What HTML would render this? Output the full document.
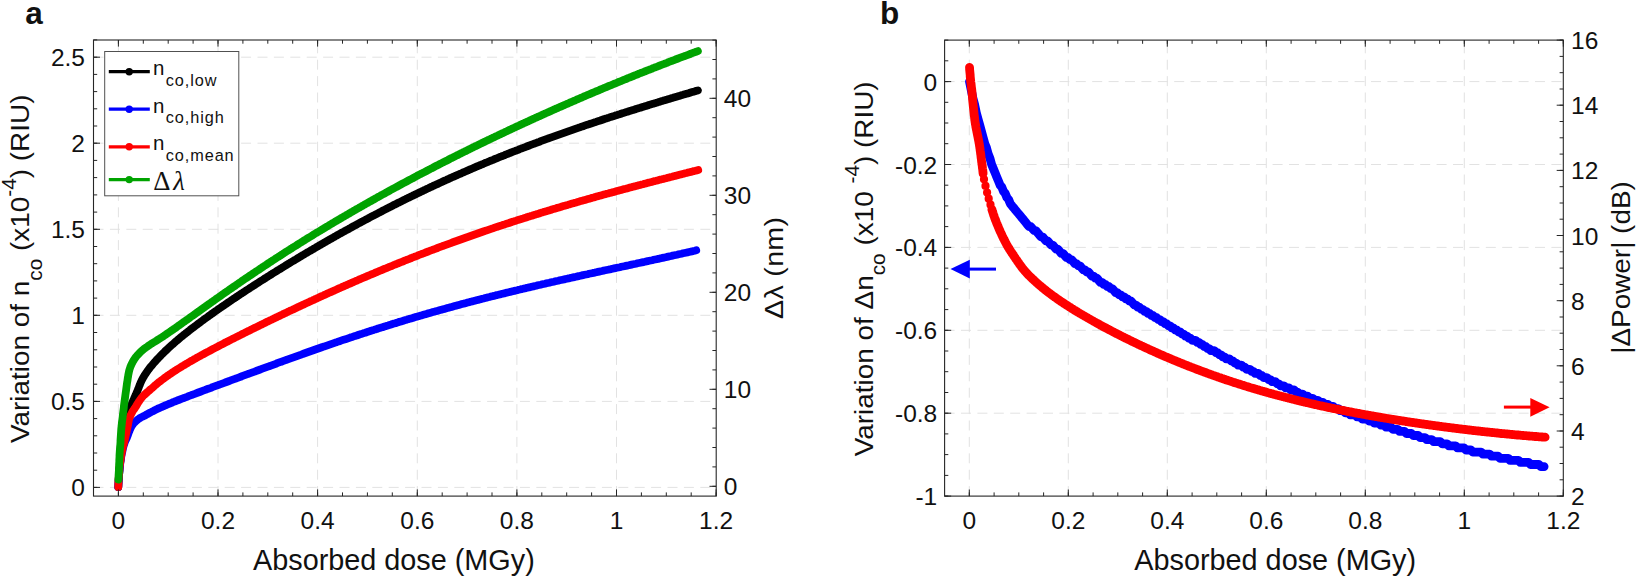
<!DOCTYPE html>
<html lang="en"><head><meta charset="utf-8"><title>Figure</title>
<style>
html,body{margin:0;padding:0;background:#fff;}
body{width:1637px;height:577px;overflow:hidden;}
svg{display:block;}
svg text{font-family:"Liberation Sans", sans-serif;fill:#111111;}
</style></head><body>
<svg width="1637" height="577" viewBox="0 0 1637 577">
<rect width="1637" height="577" fill="#fff"/>
<rect x="93.5" y="40.0" width="622.7" height="456.1" fill="#fff"/>
<line x1="118.4" y1="496.1" x2="118.4" y2="40.0" stroke="#e2e2e2" stroke-width="1.00" stroke-dasharray="10 6.4"/>
<line x1="218.0" y1="496.1" x2="218.0" y2="40.0" stroke="#e2e2e2" stroke-width="1.00" stroke-dasharray="10 6.4"/>
<line x1="317.6" y1="496.1" x2="317.6" y2="40.0" stroke="#e2e2e2" stroke-width="1.00" stroke-dasharray="10 6.4"/>
<line x1="417.3" y1="496.1" x2="417.3" y2="40.0" stroke="#e2e2e2" stroke-width="1.00" stroke-dasharray="10 6.4"/>
<line x1="516.9" y1="496.1" x2="516.9" y2="40.0" stroke="#e2e2e2" stroke-width="1.00" stroke-dasharray="10 6.4"/>
<line x1="616.5" y1="496.1" x2="616.5" y2="40.0" stroke="#e2e2e2" stroke-width="1.00" stroke-dasharray="10 6.4"/>
<line x1="93.5" y1="487.4" x2="716.1" y2="487.4" stroke="#e2e2e2" stroke-width="1.00" stroke-dasharray="10 6.4"/>
<line x1="93.5" y1="401.4" x2="716.1" y2="401.4" stroke="#e2e2e2" stroke-width="1.00" stroke-dasharray="10 6.4"/>
<line x1="93.5" y1="315.3" x2="716.1" y2="315.3" stroke="#e2e2e2" stroke-width="1.00" stroke-dasharray="10 6.4"/>
<line x1="93.5" y1="229.3" x2="716.1" y2="229.3" stroke="#e2e2e2" stroke-width="1.00" stroke-dasharray="10 6.4"/>
<line x1="93.5" y1="143.2" x2="716.1" y2="143.2" stroke="#e2e2e2" stroke-width="1.00" stroke-dasharray="10 6.4"/>
<line x1="93.5" y1="57.2" x2="716.1" y2="57.2" stroke="#e2e2e2" stroke-width="1.00" stroke-dasharray="10 6.4"/>
<path d="M118.3 487.0 L118.4 485.5 L118.5 484.0 L118.6 482.5 L118.7 481.0 L118.8 479.5 L118.9 478.0 L119.0 476.5 L119.1 475.0 L119.2 473.5 L119.4 472.0 L119.5 470.5 L119.6 469.0 L119.7 467.5 L119.9 466.0 L120.0 464.5 L120.2 463.0 L120.3 461.5 L120.5 460.0 L120.6 458.5 L120.8 457.1 L121.0 455.6 L121.1 454.1 L121.3 452.6 L121.5 451.1 L121.6 449.6 L121.8 448.1 L122.0 446.6 L122.2 445.1 L122.4 443.6 L122.6 442.1 L122.8 440.6 L123.0 439.2 L123.2 437.7 L123.4 436.2 L123.6 434.7 L123.9 433.2 L124.1 431.7 L124.3 430.2 L124.6 428.8 L124.8 427.3 L125.1 425.8 L125.3 424.3 L125.6 422.8 L125.9 421.4 L126.2 419.9 L126.6 418.4 L126.9 417.0 L127.3 415.5 L127.7 414.1 L128.1 412.6 L128.6 411.2 L129.2 409.8 L129.8 408.4 L130.4 407.1 L131.0 405.7 L131.6 404.3 L132.2 402.9 L132.8 401.5 L133.4 400.2 L134.0 398.8 L134.6 397.4 L135.2 396.0 L135.8 394.7 L136.4 393.3 L137.0 391.9 L137.6 390.5 L138.1 389.1 L138.7 387.7 L139.2 386.3 L139.8 384.9 L140.3 383.5 L140.9 382.1 L141.5 380.8 L142.2 379.4 L142.9 378.1 L143.7 376.8 L144.4 375.5 L145.2 374.3 L146.1 373.0 L146.9 371.8 L147.8 370.5 L148.7 369.3 L149.6 368.1 L150.5 366.9 L151.5 365.8 L152.5 364.7 L153.4 363.5 L154.4 362.4 L155.4 361.3 L156.4 360.2 L157.5 359.0 L158.5 358.0 L159.5 356.9 L160.6 355.8 L161.6 354.7 L162.7 353.7 L163.8 352.6 L164.8 351.5 L165.9 350.5 L167.0 349.5 L168.1 348.4 L169.2 347.4 L170.3 346.4 L171.4 345.4 L172.5 344.4 L173.7 343.4 L174.8 342.4 L175.9 341.4 L177.1 340.5 L178.2 339.5 L179.4 338.5 L180.5 337.6 L181.7 336.6 L182.9 335.7 L184.0 334.7 L185.2 333.8 L186.4 332.8 L187.6 331.9 L188.7 331.0 L189.9 330.1 L191.1 329.1 L192.3 328.2 L193.5 327.3 L194.7 326.4 L195.9 325.5 L197.1 324.6 L198.3 323.7 L199.5 322.8 L200.7 321.9 L201.9 321.0 L203.1 320.1 L204.3 319.2 L205.5 318.3 L206.8 317.5 L208.0 316.6 L209.2 315.7 L210.4 314.8 L211.6 313.9 L212.9 313.1 L214.1 312.2 L215.3 311.3 L216.6 310.5 L217.8 309.6 L219.0 308.8 L220.3 307.9 L221.5 307.1 L222.7 306.2 L224.0 305.4 L225.2 304.5 L226.4 303.7 L227.7 302.8 L228.9 302.0 L230.2 301.1 L231.4 300.3 L232.7 299.4 L233.9 298.6 L235.2 297.8 L236.4 296.9 L237.7 296.1 L238.9 295.3 L240.2 294.4 L241.4 293.6 L242.7 292.8 L243.9 292.0 L245.2 291.1 L246.4 290.3 L247.7 289.5 L249.0 288.7 L250.2 287.8 L251.5 287.0 L252.7 286.2 L254.0 285.4 L255.3 284.6 L256.5 283.8 L257.8 283.0 L259.1 282.1 L260.3 281.3 L261.6 280.5 L262.9 279.7 L264.1 278.9 L265.4 278.1 L266.7 277.3 L267.9 276.5 L269.2 275.7 L270.5 274.9 L271.8 274.1 L273.0 273.3 L274.3 272.5 L275.6 271.7 L276.9 270.9 L278.1 270.1 L279.4 269.4 L280.7 268.6 L282.0 267.8 L283.2 267.0 L284.5 266.2 L285.8 265.4 L287.1 264.6 L288.4 263.8 L289.7 263.1 L290.9 262.3 L292.2 261.5 L293.5 260.7 L294.8 260.0 L296.1 259.2 L297.4 258.4 L298.7 257.6 L299.9 256.9 L301.2 256.1 L302.5 255.3 L303.8 254.6 L305.1 253.8 L306.4 253.0 L307.7 252.3 L309.0 251.5 L310.3 250.7 L311.6 250.0 L312.9 249.2 L314.2 248.5 L315.5 247.7 L316.8 246.9 L318.1 246.2 L319.4 245.4 L320.7 244.7 L322.0 243.9 L323.3 243.2 L324.6 242.4 L325.9 241.7 L327.2 240.9 L328.5 240.2 L329.8 239.4 L331.1 238.7 L332.4 238.0 L333.7 237.2 L335.0 236.5 L336.3 235.7 L337.6 235.0 L339.0 234.3 L340.3 233.5 L341.6 232.8 L342.9 232.1 L344.2 231.4 L345.5 230.6 L346.8 229.9 L348.2 229.2 L349.5 228.5 L350.8 227.7 L352.1 227.0 L353.4 226.3 L354.7 225.6 L356.1 224.9 L357.4 224.1 L358.7 223.4 L360.0 222.7 L361.3 222.0 L362.7 221.3 L364.0 220.6 L365.3 219.9 L366.6 219.2 L368.0 218.5 L369.3 217.8 L370.6 217.0 L372.0 216.3 L373.3 215.6 L374.6 215.0 L376.0 214.3 L377.3 213.6 L378.6 212.9 L379.9 212.2 L381.3 211.5 L382.6 210.8 L384.0 210.1 L385.3 209.4 L386.6 208.7 L388.0 208.0 L389.3 207.4 L390.6 206.7 L392.0 206.0 L393.3 205.3 L394.7 204.6 L396.0 204.0 L397.3 203.3 L398.7 202.6 L400.0 202.0 L401.4 201.3 L402.7 200.6 L404.1 199.9 L405.4 199.3 L406.8 198.6 L408.1 197.9 L409.5 197.3 L410.8 196.6 L412.2 196.0 L413.5 195.3 L414.9 194.7 L416.2 194.0 L417.6 193.4 L418.9 192.7 L420.3 192.1 L421.6 191.4 L423.0 190.8 L424.4 190.1 L425.7 189.5 L427.1 188.8 L428.4 188.2 L429.8 187.5 L431.1 186.9 L432.5 186.3 L433.9 185.6 L435.2 185.0 L436.6 184.4 L438.0 183.8 L439.3 183.1 L440.7 182.5 L442.1 181.9 L443.4 181.2 L444.8 180.6 L446.2 180.0 L447.5 179.4 L448.9 178.8 L450.3 178.1 L451.6 177.5 L453.0 176.9 L454.4 176.3 L455.8 175.7 L457.1 175.1 L458.5 174.5 L459.9 173.9 L461.3 173.3 L462.6 172.7 L464.0 172.1 L465.4 171.5 L466.8 170.9 L468.1 170.3 L469.5 169.7 L470.9 169.1 L472.3 168.5 L473.7 167.9 L475.0 167.3 L476.4 166.7 L477.8 166.1 L479.2 165.5 L480.6 165.0 L482.0 164.4 L483.4 163.8 L484.7 163.2 L486.1 162.6 L487.5 162.1 L488.9 161.5 L490.3 160.9 L491.7 160.3 L493.1 159.8 L494.5 159.2 L495.9 158.6 L497.2 158.1 L498.6 157.5 L500.0 156.9 L501.4 156.4 L502.8 155.8 L504.2 155.3 L505.6 154.7 L507.0 154.2 L508.4 153.6 L509.8 153.0 L511.2 152.5 L512.6 151.9 L514.0 151.4 L515.4 150.9 L516.8 150.3 L518.2 149.8 L519.6 149.2 L521.0 148.7 L522.4 148.1 L523.8 147.6 L525.2 147.1 L526.6 146.5 L528.0 146.0 L529.4 145.5 L530.8 144.9 L532.2 144.4 L533.6 143.9 L535.0 143.3 L536.4 142.8 L537.9 142.3 L539.3 141.8 L540.7 141.2 L542.1 140.7 L543.5 140.2 L544.9 139.7 L546.3 139.2 L547.7 138.7 L549.1 138.1 L550.5 137.6 L552.0 137.1 L553.4 136.6 L554.8 136.1 L556.2 135.6 L557.6 135.1 L559.0 134.6 L560.4 134.1 L561.9 133.6 L563.3 133.1 L564.7 132.6 L566.1 132.1 L567.5 131.6 L568.9 131.1 L570.4 130.6 L571.8 130.1 L573.2 129.6 L574.6 129.1 L576.0 128.6 L577.5 128.1 L578.9 127.6 L580.3 127.2 L581.7 126.7 L583.2 126.2 L584.6 125.7 L586.0 125.2 L587.4 124.7 L588.8 124.3 L590.3 123.8 L591.7 123.3 L593.1 122.8 L594.5 122.3 L596.0 121.9 L597.4 121.4 L598.8 120.9 L600.3 120.5 L601.7 120.0 L603.1 119.5 L604.5 119.0 L606.0 118.6 L607.4 118.1 L608.8 117.7 L610.2 117.2 L611.7 116.7 L613.1 116.3 L614.5 115.8 L616.0 115.3 L617.4 114.9 L618.8 114.4 L620.3 114.0 L621.7 113.5 L623.1 113.1 L624.6 112.6 L626.0 112.1 L627.4 111.7 L628.9 111.2 L630.3 110.8 L631.7 110.3 L633.2 109.9 L634.6 109.5 L636.0 109.0 L637.5 108.6 L638.9 108.1 L640.3 107.7 L641.8 107.2 L643.2 106.8 L644.6 106.3 L646.1 105.9 L647.5 105.5 L648.9 105.0 L650.4 104.6 L651.8 104.1 L653.3 103.7 L654.7 103.3 L656.1 102.8 L657.6 102.4 L659.0 101.9 L660.4 101.5 L661.9 101.1 L663.3 100.6 L664.8 100.2 L666.2 99.8 L667.6 99.3 L669.1 98.9 L670.5 98.5 L672.0 98.1 L673.4 97.6 L674.8 97.2 L676.3 96.8 L677.7 96.3 L679.2 95.9 L680.6 95.5 L682.0 95.1 L683.5 94.6 L684.9 94.2 L686.4 93.8 L687.8 93.4 L689.2 93.0 L690.7 92.5 L692.1 92.1 L693.6 91.7 L695.0 91.3 L696.5 90.8 L697.9 90.4" fill="none" stroke="#000000" stroke-width="7.8" stroke-linecap="round" stroke-linejoin="round"/>
<path d="M118.3 487.0 L118.4 485.5 L118.4 484.0 L118.5 482.5 L118.6 481.0 L118.7 479.5 L118.8 478.0 L118.9 476.5 L119.0 475.0 L119.2 473.5 L119.3 472.0 L119.5 470.5 L119.6 469.0 L119.8 467.5 L119.9 466.0 L120.1 464.5 L120.3 463.0 L120.5 461.5 L120.8 460.1 L121.0 458.6 L121.2 457.1 L121.5 455.6 L121.8 454.1 L122.1 452.7 L122.4 451.2 L122.7 449.7 L123.0 448.2 L123.4 446.8 L123.8 445.3 L124.3 443.9 L124.7 442.5 L125.3 441.1 L126.0 439.7 L126.6 438.4 L127.2 437.0 L127.7 435.6 L128.2 434.2 L128.7 432.7 L129.3 431.4 L129.8 430.0 L130.4 428.6 L131.1 427.2 L131.8 425.9 L132.7 424.7 L133.6 423.5 L134.6 422.4 L135.7 421.3 L136.8 420.3 L138.0 419.4 L139.2 418.5 L140.5 417.8 L141.8 417.0 L143.2 416.4 L144.5 415.7 L145.8 415.0 L147.2 414.2 L148.5 413.5 L149.8 412.8 L151.1 412.1 L152.4 411.4 L153.8 410.7 L155.1 410.0 L156.5 409.4 L157.8 408.7 L159.2 408.1 L160.6 407.5 L162.0 406.9 L163.3 406.3 L164.7 405.7 L166.1 405.1 L167.5 404.5 L168.9 403.9 L170.3 403.3 L171.6 402.8 L173.0 402.2 L174.4 401.7 L175.8 401.1 L177.2 400.5 L178.6 400.0 L180.0 399.5 L181.4 398.9 L182.8 398.4 L184.2 397.8 L185.6 397.3 L187.0 396.8 L188.5 396.2 L189.9 395.7 L191.3 395.2 L192.7 394.6 L194.1 394.1 L195.5 393.6 L196.9 393.0 L198.3 392.5 L199.7 392.0 L201.1 391.5 L202.5 390.9 L203.9 390.4 L205.3 389.9 L206.7 389.3 L208.2 388.8 L209.6 388.3 L211.0 387.8 L212.4 387.2 L213.8 386.7 L215.2 386.2 L216.6 385.7 L218.0 385.2 L219.4 384.6 L220.8 384.1 L222.2 383.6 L223.6 383.1 L225.1 382.5 L226.5 382.0 L227.9 381.5 L229.3 381.0 L230.7 380.4 L232.1 379.9 L233.5 379.4 L234.9 378.9 L236.3 378.3 L237.7 377.8 L239.1 377.3 L240.6 376.8 L242.0 376.2 L243.4 375.7 L244.8 375.2 L246.2 374.7 L247.6 374.2 L249.0 373.6 L250.4 373.1 L251.8 372.6 L253.2 372.1 L254.7 371.6 L256.1 371.0 L257.5 370.5 L258.9 370.0 L260.3 369.5 L261.7 368.9 L263.1 368.4 L264.5 367.9 L265.9 367.4 L267.3 366.9 L268.8 366.4 L270.2 365.8 L271.6 365.3 L273.0 364.8 L274.4 364.3 L275.8 363.8 L277.2 363.2 L278.6 362.7 L280.0 362.2 L281.5 361.7 L282.9 361.2 L284.3 360.7 L285.7 360.2 L287.1 359.6 L288.5 359.1 L289.9 358.6 L291.3 358.1 L292.8 357.6 L294.2 357.1 L295.6 356.6 L297.0 356.1 L298.4 355.6 L299.8 355.1 L301.2 354.6 L302.7 354.0 L304.1 353.5 L305.5 353.0 L306.9 352.5 L308.3 352.0 L309.7 351.5 L311.2 351.0 L312.6 350.5 L314.0 350.0 L315.4 349.5 L316.8 349.0 L318.3 348.5 L319.7 348.0 L321.1 347.5 L322.5 347.0 L323.9 346.6 L325.3 346.1 L326.8 345.6 L328.2 345.1 L329.6 344.6 L331.0 344.1 L332.5 343.6 L333.9 343.1 L335.3 342.6 L336.7 342.2 L338.1 341.7 L339.6 341.2 L341.0 340.7 L342.4 340.2 L343.8 339.7 L345.3 339.3 L346.7 338.8 L348.1 338.3 L349.5 337.8 L351.0 337.3 L352.4 336.9 L353.8 336.4 L355.2 335.9 L356.7 335.5 L358.1 335.0 L359.5 334.5 L361.0 334.1 L362.4 333.6 L363.8 333.1 L365.2 332.7 L366.7 332.2 L368.1 331.7 L369.5 331.3 L371.0 330.8 L372.4 330.3 L373.8 329.9 L375.3 329.4 L376.7 329.0 L378.1 328.5 L379.6 328.1 L381.0 327.6 L382.4 327.2 L383.9 326.7 L385.3 326.3 L386.7 325.8 L388.2 325.4 L389.6 324.9 L391.0 324.5 L392.5 324.0 L393.9 323.6 L395.3 323.2 L396.8 322.7 L398.2 322.3 L399.7 321.8 L401.1 321.4 L402.5 321.0 L404.0 320.5 L405.4 320.1 L406.9 319.7 L408.3 319.2 L409.7 318.8 L411.2 318.4 L412.6 318.0 L414.1 317.5 L415.5 317.1 L416.9 316.7 L418.4 316.3 L419.8 315.8 L421.3 315.4 L422.7 315.0 L424.2 314.6 L425.6 314.2 L427.0 313.8 L428.5 313.3 L429.9 312.9 L431.4 312.5 L432.8 312.1 L434.3 311.7 L435.7 311.3 L437.2 310.9 L438.6 310.5 L440.1 310.1 L441.5 309.7 L443.0 309.3 L444.4 308.9 L445.9 308.5 L447.3 308.1 L448.8 307.7 L450.2 307.3 L451.7 306.9 L453.1 306.5 L454.6 306.1 L456.0 305.7 L457.5 305.3 L458.9 304.9 L460.4 304.5 L461.8 304.1 L463.3 303.7 L464.7 303.4 L466.2 303.0 L467.6 302.6 L469.1 302.2 L470.5 301.8 L472.0 301.4 L473.4 301.1 L474.9 300.7 L476.4 300.3 L477.8 299.9 L479.3 299.6 L480.7 299.2 L482.2 298.8 L483.6 298.5 L485.1 298.1 L486.5 297.7 L488.0 297.3 L489.5 297.0 L490.9 296.6 L492.4 296.2 L493.8 295.9 L495.3 295.5 L496.8 295.1 L498.2 294.8 L499.7 294.4 L501.1 294.1 L502.6 293.7 L504.1 293.4 L505.5 293.0 L507.0 292.6 L508.4 292.3 L509.9 291.9 L511.4 291.6 L512.8 291.2 L514.3 290.9 L515.7 290.5 L517.2 290.2 L518.7 289.8 L520.1 289.5 L521.6 289.1 L523.0 288.8 L524.5 288.4 L526.0 288.1 L527.4 287.7 L528.9 287.4 L530.4 287.1 L531.8 286.7 L533.3 286.4 L534.8 286.0 L536.2 285.7 L537.7 285.3 L539.1 285.0 L540.6 284.7 L542.1 284.3 L543.5 284.0 L545.0 283.7 L546.5 283.3 L547.9 283.0 L549.4 282.7 L550.9 282.3 L552.3 282.0 L553.8 281.7 L555.3 281.3 L556.7 281.0 L558.2 280.7 L559.7 280.3 L561.1 280.0 L562.6 279.7 L564.1 279.4 L565.5 279.0 L567.0 278.7 L568.5 278.4 L569.9 278.1 L571.4 277.7 L572.9 277.4 L574.3 277.1 L575.8 276.8 L577.3 276.4 L578.7 276.1 L580.2 275.8 L581.7 275.4 L583.1 275.1 L584.6 274.8 L586.1 274.5 L587.6 274.2 L589.0 273.8 L590.5 273.5 L592.0 273.2 L593.4 272.9 L594.9 272.6 L596.4 272.2 L597.8 271.9 L599.3 271.6 L600.8 271.3 L602.2 271.0 L603.7 270.6 L605.2 270.3 L606.6 270.0 L608.1 269.7 L609.6 269.4 L611.1 269.1 L612.5 268.7 L614.0 268.4 L615.5 268.1 L616.9 267.8 L618.4 267.5 L619.9 267.2 L621.3 266.8 L622.8 266.5 L624.3 266.2 L625.7 265.9 L627.2 265.6 L628.7 265.3 L630.2 264.9 L631.6 264.6 L633.1 264.3 L634.6 264.0 L636.0 263.7 L637.5 263.3 L639.0 263.0 L640.4 262.7 L641.9 262.4 L643.4 262.1 L644.8 261.8 L646.3 261.4 L647.8 261.1 L649.2 260.8 L650.7 260.5 L652.2 260.2 L653.7 259.8 L655.1 259.5 L656.6 259.2 L658.1 258.9 L659.5 258.6 L661.0 258.2 L662.5 257.9 L663.9 257.6 L665.4 257.3 L666.9 256.9 L668.3 256.6 L669.8 256.3 L671.3 256.0 L672.7 255.6 L674.2 255.3 L675.7 255.0 L677.1 254.7 L678.6 254.3 L680.1 254.0 L681.5 253.7 L683.0 253.3 L684.5 253.0 L685.9 252.7 L687.4 252.4 L688.9 252.0 L690.3 251.7 L691.8 251.4 L693.3 251.0 L694.7 250.7 L696.2 250.3" fill="none" stroke="#0000ff" stroke-width="7.8" stroke-linecap="round" stroke-linejoin="round"/>
<path d="M118.3 487.0 L118.3 485.5 L118.4 484.0 L118.4 482.5 L118.5 481.0 L118.6 479.5 L118.7 478.0 L118.8 476.5 L118.9 475.0 L119.0 473.5 L119.1 472.0 L119.3 470.5 L119.4 469.0 L119.5 467.5 L119.7 466.1 L119.9 464.6 L120.1 463.1 L120.4 461.6 L120.6 460.1 L120.8 458.6 L121.0 457.1 L121.2 455.6 L121.5 454.2 L121.7 452.7 L122.0 451.2 L122.3 449.7 L122.6 448.3 L122.9 446.8 L123.3 445.4 L123.7 443.9 L124.1 442.5 L124.5 441.0 L124.8 439.6 L125.2 438.1 L125.5 436.6 L125.8 435.2 L126.1 433.7 L126.5 432.2 L126.8 430.8 L127.1 429.3 L127.4 427.8 L127.7 426.4 L128.0 424.9 L128.2 423.4 L128.5 421.9 L128.8 420.4 L129.1 419.0 L129.6 417.6 L130.2 416.2 L130.8 414.8 L131.5 413.5 L132.2 412.2 L132.9 410.9 L133.8 409.6 L134.7 408.4 L135.5 407.2 L136.3 405.9 L137.0 404.6 L137.8 403.3 L138.6 402.0 L139.4 400.8 L140.3 399.5 L141.2 398.3 L142.1 397.2 L143.1 396.1 L144.2 395.0 L145.3 394.0 L146.4 393.0 L147.5 392.0 L148.7 391.0 L149.8 390.0 L150.9 389.0 L152.1 388.1 L153.2 387.1 L154.3 386.1 L155.5 385.1 L156.6 384.1 L157.8 383.2 L158.9 382.2 L160.1 381.3 L161.3 380.4 L162.5 379.5 L163.7 378.6 L164.9 377.7 L166.1 376.8 L167.3 375.9 L168.6 375.1 L169.8 374.2 L171.0 373.4 L172.3 372.5 L173.5 371.7 L174.8 370.9 L176.1 370.1 L177.3 369.3 L178.6 368.5 L179.9 367.7 L181.2 366.9 L182.4 366.1 L183.7 365.4 L185.0 364.6 L186.3 363.8 L187.6 363.1 L188.9 362.3 L190.2 361.5 L191.5 360.8 L192.8 360.1 L194.1 359.3 L195.4 358.6 L196.7 357.8 L198.0 357.1 L199.3 356.4 L200.6 355.7 L202.0 354.9 L203.3 354.2 L204.6 353.5 L205.9 352.8 L207.2 352.1 L208.6 351.4 L209.9 350.7 L211.2 350.0 L212.5 349.3 L213.9 348.6 L215.2 347.9 L216.5 347.2 L217.9 346.5 L219.2 345.8 L220.5 345.1 L221.8 344.4 L223.2 343.7 L224.5 343.0 L225.8 342.3 L227.2 341.7 L228.5 341.0 L229.9 340.3 L231.2 339.6 L232.5 338.9 L233.9 338.3 L235.2 337.6 L236.5 336.9 L237.9 336.2 L239.2 335.6 L240.6 334.9 L241.9 334.2 L243.3 333.6 L244.6 332.9 L245.9 332.2 L247.3 331.5 L248.6 330.9 L250.0 330.2 L251.3 329.5 L252.7 328.9 L254.0 328.2 L255.4 327.6 L256.7 326.9 L258.1 326.2 L259.4 325.6 L260.7 324.9 L262.1 324.3 L263.4 323.6 L264.8 323.0 L266.1 322.3 L267.5 321.6 L268.8 321.0 L270.2 320.3 L271.5 319.7 L272.9 319.0 L274.3 318.4 L275.6 317.7 L277.0 317.1 L278.3 316.4 L279.7 315.8 L281.0 315.1 L282.4 314.5 L283.7 313.8 L285.1 313.2 L286.4 312.6 L287.8 311.9 L289.1 311.3 L290.5 310.6 L291.9 310.0 L293.2 309.4 L294.6 308.7 L295.9 308.1 L297.3 307.4 L298.6 306.8 L300.0 306.2 L301.4 305.5 L302.7 304.9 L304.1 304.3 L305.4 303.6 L306.8 303.0 L308.2 302.4 L309.5 301.8 L310.9 301.1 L312.3 300.5 L313.6 299.9 L315.0 299.2 L316.4 298.6 L317.7 298.0 L319.1 297.4 L320.4 296.7 L321.8 296.1 L323.2 295.5 L324.5 294.9 L325.9 294.3 L327.3 293.6 L328.6 293.0 L330.0 292.4 L331.4 291.8 L332.8 291.2 L334.1 290.6 L335.5 290.0 L336.9 289.4 L338.2 288.7 L339.6 288.1 L341.0 287.5 L342.3 286.9 L343.7 286.3 L345.1 285.7 L346.5 285.1 L347.8 284.5 L349.2 283.9 L350.6 283.3 L352.0 282.7 L353.3 282.1 L354.7 281.5 L356.1 280.9 L357.5 280.3 L358.8 279.7 L360.2 279.1 L361.6 278.5 L363.0 277.9 L364.4 277.4 L365.7 276.8 L367.1 276.2 L368.5 275.6 L369.9 275.0 L371.3 274.4 L372.7 273.8 L374.0 273.3 L375.4 272.7 L376.8 272.1 L378.2 271.5 L379.6 270.9 L381.0 270.4 L382.3 269.8 L383.7 269.2 L385.1 268.6 L386.5 268.1 L387.9 267.5 L389.3 266.9 L390.7 266.4 L392.1 265.8 L393.4 265.2 L394.8 264.7 L396.2 264.1 L397.6 263.5 L399.0 263.0 L400.4 262.4 L401.8 261.9 L403.2 261.3 L404.6 260.7 L406.0 260.2 L407.4 259.6 L408.8 259.1 L410.2 258.5 L411.5 258.0 L412.9 257.4 L414.3 256.9 L415.7 256.3 L417.1 255.8 L418.5 255.2 L419.9 254.7 L421.3 254.2 L422.7 253.6 L424.1 253.1 L425.5 252.5 L426.9 252.0 L428.3 251.5 L429.7 250.9 L431.1 250.4 L432.5 249.9 L433.9 249.3 L435.3 248.8 L436.8 248.3 L438.2 247.7 L439.6 247.2 L441.0 246.7 L442.4 246.2 L443.8 245.6 L445.2 245.1 L446.6 244.6 L448.0 244.1 L449.4 243.6 L450.8 243.1 L452.2 242.5 L453.6 242.0 L455.0 241.5 L456.5 241.0 L457.9 240.5 L459.3 240.0 L460.7 239.5 L462.1 239.0 L463.5 238.5 L464.9 238.0 L466.3 237.5 L467.8 237.0 L469.2 236.5 L470.6 236.0 L472.0 235.5 L473.4 235.0 L474.8 234.5 L476.3 234.0 L477.7 233.5 L479.1 233.0 L480.5 232.5 L481.9 232.0 L483.3 231.5 L484.8 231.0 L486.2 230.6 L487.6 230.1 L489.0 229.6 L490.4 229.1 L491.9 228.6 L493.3 228.2 L494.7 227.7 L496.1 227.2 L497.6 226.7 L499.0 226.2 L500.4 225.8 L501.8 225.3 L503.3 224.8 L504.7 224.4 L506.1 223.9 L507.5 223.4 L509.0 223.0 L510.4 222.5 L511.8 222.0 L513.2 221.6 L514.7 221.1 L516.1 220.7 L517.5 220.2 L519.0 219.7 L520.4 219.3 L521.8 218.8 L523.2 218.4 L524.7 217.9 L526.1 217.5 L527.5 217.0 L529.0 216.6 L530.4 216.1 L531.8 215.7 L533.3 215.2 L534.7 214.8 L536.1 214.3 L537.6 213.9 L539.0 213.5 L540.4 213.0 L541.9 212.6 L543.3 212.1 L544.7 211.7 L546.2 211.3 L547.6 210.8 L549.0 210.4 L550.5 210.0 L551.9 209.5 L553.4 209.1 L554.8 208.7 L556.2 208.3 L557.7 207.8 L559.1 207.4 L560.5 207.0 L562.0 206.5 L563.4 206.1 L564.9 205.7 L566.3 205.3 L567.7 204.9 L569.2 204.4 L570.6 204.0 L572.1 203.6 L573.5 203.2 L574.9 202.8 L576.4 202.4 L577.8 201.9 L579.3 201.5 L580.7 201.1 L582.2 200.7 L583.6 200.3 L585.0 199.9 L586.5 199.5 L587.9 199.1 L589.4 198.7 L590.8 198.3 L592.3 197.8 L593.7 197.5 L595.2 197.0 L596.6 196.6 L598.0 196.2 L599.5 195.8 L600.9 195.4 L602.4 195.0 L603.8 194.6 L605.3 194.2 L606.7 193.8 L608.2 193.5 L609.6 193.1 L611.1 192.7 L612.5 192.3 L614.0 191.9 L615.4 191.5 L616.9 191.1 L618.3 190.7 L619.8 190.3 L621.2 189.9 L622.7 189.5 L624.1 189.1 L625.6 188.8 L627.0 188.4 L628.5 188.0 L629.9 187.6 L631.4 187.2 L632.8 186.8 L634.3 186.4 L635.7 186.1 L637.2 185.7 L638.6 185.3 L640.1 184.9 L641.5 184.5 L643.0 184.2 L644.4 183.8 L645.9 183.4 L647.3 183.0 L648.8 182.6 L650.2 182.3 L651.7 181.9 L653.1 181.5 L654.6 181.1 L656.0 180.8 L657.5 180.4 L658.9 180.0 L660.4 179.6 L661.8 179.3 L663.3 178.9 L664.8 178.5 L666.2 178.2 L667.7 177.8 L669.1 177.4 L670.6 177.0 L672.0 176.7 L673.5 176.3 L674.9 175.9 L676.4 175.6 L677.8 175.2 L679.3 174.8 L680.7 174.4 L682.2 174.1 L683.7 173.7 L685.1 173.3 L686.6 173.0 L688.0 172.6 L689.5 172.2 L690.9 171.9 L692.4 171.5 L693.8 171.1 L695.3 170.8 L696.7 170.4 L698.2 170.0" fill="none" stroke="#ff0000" stroke-width="7.8" stroke-linecap="round" stroke-linejoin="round"/>
<path d="M118.4 479.6 L118.5 478.1 L118.6 476.6 L118.6 475.1 L118.7 473.6 L118.8 472.1 L118.9 470.6 L118.9 469.1 L119.0 467.6 L119.1 466.1 L119.1 464.6 L119.2 463.1 L119.3 461.6 L119.3 460.1 L119.4 458.6 L119.5 457.1 L119.5 455.6 L119.6 454.1 L119.7 452.6 L119.8 451.1 L119.9 449.6 L120.0 448.1 L120.1 446.6 L120.3 445.1 L120.4 443.6 L120.5 442.1 L120.5 440.6 L120.6 439.1 L120.7 437.6 L120.8 436.1 L120.9 434.6 L121.0 433.1 L121.1 431.6 L121.2 430.1 L121.3 428.6 L121.5 427.1 L121.6 425.6 L121.8 424.2 L121.9 422.7 L122.1 421.2 L122.3 419.7 L122.5 418.2 L122.7 416.7 L122.8 415.2 L123.0 413.7 L123.2 412.2 L123.4 410.7 L123.6 409.2 L123.8 407.7 L123.9 406.3 L124.1 404.8 L124.3 403.3 L124.5 401.8 L124.7 400.3 L124.9 398.8 L125.1 397.3 L125.3 395.8 L125.5 394.3 L125.7 392.9 L125.9 391.4 L126.1 389.9 L126.3 388.4 L126.5 386.9 L126.7 385.4 L126.9 383.9 L127.1 382.4 L127.4 380.9 L127.6 379.4 L127.8 377.9 L128.1 376.5 L128.3 375.0 L128.6 373.5 L128.9 372.0 L129.2 370.6 L129.6 369.2 L130.1 367.8 L130.6 366.3 L131.2 365.0 L131.9 363.6 L132.6 362.2 L133.3 360.9 L134.1 359.6 L134.9 358.4 L135.8 357.2 L136.7 356.0 L137.7 354.9 L138.8 353.8 L139.8 352.7 L140.9 351.6 L142.0 350.6 L143.2 349.7 L144.3 348.7 L145.5 347.8 L146.8 347.0 L148.0 346.1 L149.2 345.3 L150.5 344.4 L151.7 343.6 L153.0 342.8 L154.3 342.0 L155.6 341.2 L156.8 340.4 L158.1 339.6 L159.4 338.8 L160.6 338.0 L161.9 337.2 L163.2 336.4 L164.4 335.5 L165.6 334.7 L166.9 333.8 L168.1 333.0 L169.4 332.1 L170.6 331.3 L171.8 330.4 L173.1 329.6 L174.3 328.7 L175.5 327.9 L176.8 327.0 L178.0 326.1 L179.2 325.3 L180.4 324.4 L181.7 323.5 L182.9 322.6 L184.1 321.8 L185.3 320.9 L186.6 320.0 L187.8 319.2 L189.0 318.3 L190.2 317.4 L191.4 316.5 L192.7 315.7 L193.9 314.8 L195.1 313.9 L196.3 313.1 L197.5 312.2 L198.8 311.3 L200.0 310.4 L201.2 309.6 L202.4 308.7 L203.7 307.8 L204.9 306.9 L206.1 306.1 L207.3 305.2 L208.6 304.3 L209.8 303.5 L211.0 302.6 L212.2 301.7 L213.5 300.9 L214.7 300.0 L215.9 299.1 L217.1 298.3 L218.4 297.4 L219.6 296.5 L220.8 295.7 L222.0 294.8 L223.3 293.9 L224.5 293.1 L225.7 292.2 L227.0 291.4 L228.2 290.5 L229.4 289.6 L230.7 288.8 L231.9 287.9 L233.1 287.1 L234.4 286.2 L235.6 285.4 L236.8 284.5 L238.1 283.7 L239.3 282.8 L240.6 282.0 L241.8 281.1 L243.0 280.3 L244.3 279.4 L245.5 278.6 L246.8 277.7 L248.0 276.9 L249.2 276.1 L250.5 275.2 L251.7 274.4 L253.0 273.5 L254.2 272.7 L255.5 271.9 L256.7 271.0 L258.0 270.2 L259.2 269.4 L260.5 268.5 L261.7 267.7 L263.0 266.9 L264.2 266.0 L265.5 265.2 L266.7 264.4 L268.0 263.6 L269.2 262.7 L270.5 261.9 L271.8 261.1 L273.0 260.3 L274.3 259.5 L275.5 258.6 L276.8 257.8 L278.1 257.0 L279.3 256.2 L280.6 255.4 L281.8 254.6 L283.1 253.8 L284.4 252.9 L285.6 252.1 L286.9 251.3 L288.2 250.5 L289.4 249.7 L290.7 248.9 L292.0 248.1 L293.2 247.3 L294.5 246.5 L295.8 245.7 L297.0 244.9 L298.3 244.1 L299.6 243.3 L300.9 242.5 L302.1 241.7 L303.4 240.9 L304.7 240.1 L306.0 239.3 L307.2 238.5 L308.5 237.8 L309.8 237.0 L311.1 236.2 L312.4 235.4 L313.6 234.6 L314.9 233.8 L316.2 233.0 L317.5 232.3 L318.8 231.5 L320.1 230.7 L321.3 229.9 L322.6 229.2 L323.9 228.4 L325.2 227.6 L326.5 226.8 L327.8 226.1 L329.1 225.3 L330.3 224.5 L331.6 223.7 L332.9 223.0 L334.2 222.2 L335.5 221.4 L336.8 220.7 L338.1 219.9 L339.4 219.2 L340.7 218.4 L342.0 217.6 L343.3 216.9 L344.6 216.1 L345.9 215.4 L347.2 214.6 L348.5 213.9 L349.8 213.1 L351.1 212.3 L352.4 211.6 L353.7 210.8 L355.0 210.1 L356.3 209.3 L357.6 208.6 L358.9 207.9 L360.2 207.1 L361.5 206.4 L362.8 205.6 L364.1 204.9 L365.4 204.1 L366.7 203.4 L368.0 202.7 L369.3 201.9 L370.6 201.2 L371.9 200.5 L373.3 199.7 L374.6 199.0 L375.9 198.3 L377.2 197.5 L378.5 196.8 L379.8 196.1 L381.1 195.3 L382.4 194.6 L383.7 193.9 L385.1 193.2 L386.4 192.4 L387.7 191.7 L389.0 191.0 L390.3 190.3 L391.6 189.5 L393.0 188.8 L394.3 188.1 L395.6 187.4 L396.9 186.7 L398.2 186.0 L399.6 185.2 L400.9 184.5 L402.2 183.8 L403.5 183.1 L404.9 182.4 L406.2 181.7 L407.5 181.0 L408.8 180.3 L410.2 179.6 L411.5 178.9 L412.8 178.2 L414.1 177.5 L415.5 176.8 L416.8 176.0 L418.1 175.3 L419.4 174.6 L420.8 173.9 L422.1 173.3 L423.4 172.6 L424.8 171.9 L426.1 171.2 L427.4 170.5 L428.8 169.8 L430.1 169.1 L431.4 168.4 L432.8 167.7 L434.1 167.0 L435.4 166.3 L436.8 165.6 L438.1 165.0 L439.4 164.3 L440.8 163.6 L442.1 162.9 L443.4 162.2 L444.8 161.5 L446.1 160.9 L447.5 160.2 L448.8 159.5 L450.1 158.8 L451.5 158.1 L452.8 157.5 L454.2 156.8 L455.5 156.1 L456.8 155.4 L458.2 154.8 L459.5 154.1 L460.9 153.4 L462.2 152.8 L463.6 152.1 L464.9 151.4 L466.3 150.8 L467.6 150.1 L469.0 149.4 L470.3 148.8 L471.6 148.1 L473.0 147.4 L474.3 146.8 L475.7 146.1 L477.0 145.5 L478.4 144.8 L479.7 144.1 L481.1 143.5 L482.4 142.8 L483.8 142.2 L485.1 141.5 L486.5 140.9 L487.8 140.2 L489.2 139.6 L490.6 138.9 L491.9 138.3 L493.3 137.6 L494.6 137.0 L496.0 136.3 L497.3 135.7 L498.7 135.0 L500.0 134.4 L501.4 133.7 L502.8 133.1 L504.1 132.5 L505.5 131.8 L506.8 131.2 L508.2 130.5 L509.5 129.9 L510.9 129.3 L512.3 128.6 L513.6 128.0 L515.0 127.4 L516.3 126.7 L517.7 126.1 L519.1 125.5 L520.4 124.8 L521.8 124.2 L523.2 123.6 L524.5 122.9 L525.9 122.3 L527.3 121.7 L528.6 121.1 L530.0 120.4 L531.3 119.8 L532.7 119.2 L534.1 118.6 L535.4 117.9 L536.8 117.3 L538.2 116.7 L539.6 116.1 L540.9 115.5 L542.3 114.8 L543.7 114.2 L545.0 113.6 L546.4 113.0 L547.8 112.4 L549.1 111.8 L550.5 111.2 L551.9 110.5 L553.3 109.9 L554.6 109.3 L556.0 108.7 L557.4 108.1 L558.7 107.5 L560.1 106.9 L561.5 106.3 L562.9 105.7 L564.2 105.1 L565.6 104.5 L567.0 103.9 L568.4 103.3 L569.7 102.7 L571.1 102.1 L572.5 101.5 L573.9 100.9 L575.3 100.3 L576.6 99.7 L578.0 99.1 L579.4 98.5 L580.8 97.9 L582.2 97.3 L583.5 96.7 L584.9 96.1 L586.3 95.5 L587.7 94.9 L589.1 94.4 L590.4 93.8 L591.8 93.2 L593.2 92.6 L594.6 92.0 L596.0 91.4 L597.4 90.8 L598.7 90.3 L600.1 89.7 L601.5 89.1 L602.9 88.5 L604.3 87.9 L605.7 87.4 L607.0 86.8 L608.4 86.2 L609.8 85.6 L611.2 85.1 L612.6 84.5 L614.0 83.9 L615.4 83.3 L616.8 82.8 L618.1 82.2 L619.5 81.6 L620.9 81.1 L622.3 80.5 L623.7 79.9 L625.1 79.4 L626.5 78.8 L627.9 78.2 L629.3 77.7 L630.7 77.1 L632.1 76.5 L633.5 76.0 L634.8 75.4 L636.2 74.9 L637.6 74.3 L639.0 73.7 L640.4 73.2 L641.8 72.6 L643.2 72.1 L644.6 71.5 L646.0 71.0 L647.4 70.4 L648.8 69.9 L650.2 69.3 L651.6 68.8 L653.0 68.2 L654.4 67.7 L655.8 67.1 L657.2 66.6 L658.6 66.0 L660.0 65.5 L661.4 64.9 L662.8 64.4 L664.2 63.9 L665.6 63.3 L667.0 62.8 L668.4 62.2 L669.8 61.7 L671.2 61.2 L672.6 60.6 L674.0 60.1 L675.4 59.5 L676.8 59.0 L678.2 58.5 L679.6 57.9 L681.0 57.4 L682.4 56.9 L683.8 56.4 L685.2 55.8 L686.6 55.3 L688.0 54.8 L689.5 54.3 L690.9 53.7 L692.3 53.2 L693.7 52.7 L695.1 52.2 L696.5 51.6 L697.9 51.1" fill="none" stroke="#00a300" stroke-width="7.8" stroke-linecap="round" stroke-linejoin="round"/>
<line x1="118.4" y1="496.1" x2="118.4" y2="492.4" stroke="#262626" stroke-width="1.00"/>
<line x1="118.4" y1="40.0" x2="118.4" y2="43.7" stroke="#262626" stroke-width="1.00"/>
<line x1="143.3" y1="496.1" x2="143.3" y2="492.4" stroke="#262626" stroke-width="1.00"/>
<line x1="143.3" y1="40.0" x2="143.3" y2="43.7" stroke="#262626" stroke-width="1.00"/>
<line x1="168.2" y1="496.1" x2="168.2" y2="492.4" stroke="#262626" stroke-width="1.00"/>
<line x1="168.2" y1="40.0" x2="168.2" y2="43.7" stroke="#262626" stroke-width="1.00"/>
<line x1="193.1" y1="496.1" x2="193.1" y2="492.4" stroke="#262626" stroke-width="1.00"/>
<line x1="193.1" y1="40.0" x2="193.1" y2="43.7" stroke="#262626" stroke-width="1.00"/>
<line x1="218.0" y1="496.1" x2="218.0" y2="492.4" stroke="#262626" stroke-width="1.00"/>
<line x1="218.0" y1="40.0" x2="218.0" y2="43.7" stroke="#262626" stroke-width="1.00"/>
<line x1="242.9" y1="496.1" x2="242.9" y2="492.4" stroke="#262626" stroke-width="1.00"/>
<line x1="242.9" y1="40.0" x2="242.9" y2="43.7" stroke="#262626" stroke-width="1.00"/>
<line x1="267.8" y1="496.1" x2="267.8" y2="492.4" stroke="#262626" stroke-width="1.00"/>
<line x1="267.8" y1="40.0" x2="267.8" y2="43.7" stroke="#262626" stroke-width="1.00"/>
<line x1="292.7" y1="496.1" x2="292.7" y2="492.4" stroke="#262626" stroke-width="1.00"/>
<line x1="292.7" y1="40.0" x2="292.7" y2="43.7" stroke="#262626" stroke-width="1.00"/>
<line x1="317.6" y1="496.1" x2="317.6" y2="492.4" stroke="#262626" stroke-width="1.00"/>
<line x1="317.6" y1="40.0" x2="317.6" y2="43.7" stroke="#262626" stroke-width="1.00"/>
<line x1="342.5" y1="496.1" x2="342.5" y2="492.4" stroke="#262626" stroke-width="1.00"/>
<line x1="342.5" y1="40.0" x2="342.5" y2="43.7" stroke="#262626" stroke-width="1.00"/>
<line x1="367.4" y1="496.1" x2="367.4" y2="492.4" stroke="#262626" stroke-width="1.00"/>
<line x1="367.4" y1="40.0" x2="367.4" y2="43.7" stroke="#262626" stroke-width="1.00"/>
<line x1="392.3" y1="496.1" x2="392.3" y2="492.4" stroke="#262626" stroke-width="1.00"/>
<line x1="392.3" y1="40.0" x2="392.3" y2="43.7" stroke="#262626" stroke-width="1.00"/>
<line x1="417.3" y1="496.1" x2="417.3" y2="492.4" stroke="#262626" stroke-width="1.00"/>
<line x1="417.3" y1="40.0" x2="417.3" y2="43.7" stroke="#262626" stroke-width="1.00"/>
<line x1="442.2" y1="496.1" x2="442.2" y2="492.4" stroke="#262626" stroke-width="1.00"/>
<line x1="442.2" y1="40.0" x2="442.2" y2="43.7" stroke="#262626" stroke-width="1.00"/>
<line x1="467.1" y1="496.1" x2="467.1" y2="492.4" stroke="#262626" stroke-width="1.00"/>
<line x1="467.1" y1="40.0" x2="467.1" y2="43.7" stroke="#262626" stroke-width="1.00"/>
<line x1="492.0" y1="496.1" x2="492.0" y2="492.4" stroke="#262626" stroke-width="1.00"/>
<line x1="492.0" y1="40.0" x2="492.0" y2="43.7" stroke="#262626" stroke-width="1.00"/>
<line x1="516.9" y1="496.1" x2="516.9" y2="492.4" stroke="#262626" stroke-width="1.00"/>
<line x1="516.9" y1="40.0" x2="516.9" y2="43.7" stroke="#262626" stroke-width="1.00"/>
<line x1="541.8" y1="496.1" x2="541.8" y2="492.4" stroke="#262626" stroke-width="1.00"/>
<line x1="541.8" y1="40.0" x2="541.8" y2="43.7" stroke="#262626" stroke-width="1.00"/>
<line x1="566.7" y1="496.1" x2="566.7" y2="492.4" stroke="#262626" stroke-width="1.00"/>
<line x1="566.7" y1="40.0" x2="566.7" y2="43.7" stroke="#262626" stroke-width="1.00"/>
<line x1="591.6" y1="496.1" x2="591.6" y2="492.4" stroke="#262626" stroke-width="1.00"/>
<line x1="591.6" y1="40.0" x2="591.6" y2="43.7" stroke="#262626" stroke-width="1.00"/>
<line x1="616.5" y1="496.1" x2="616.5" y2="492.4" stroke="#262626" stroke-width="1.00"/>
<line x1="616.5" y1="40.0" x2="616.5" y2="43.7" stroke="#262626" stroke-width="1.00"/>
<line x1="641.4" y1="496.1" x2="641.4" y2="492.4" stroke="#262626" stroke-width="1.00"/>
<line x1="641.4" y1="40.0" x2="641.4" y2="43.7" stroke="#262626" stroke-width="1.00"/>
<line x1="666.3" y1="496.1" x2="666.3" y2="492.4" stroke="#262626" stroke-width="1.00"/>
<line x1="666.3" y1="40.0" x2="666.3" y2="43.7" stroke="#262626" stroke-width="1.00"/>
<line x1="691.2" y1="496.1" x2="691.2" y2="492.4" stroke="#262626" stroke-width="1.00"/>
<line x1="691.2" y1="40.0" x2="691.2" y2="43.7" stroke="#262626" stroke-width="1.00"/>
<line x1="716.2" y1="496.1" x2="716.2" y2="492.4" stroke="#262626" stroke-width="1.00"/>
<line x1="716.2" y1="40.0" x2="716.2" y2="43.7" stroke="#262626" stroke-width="1.00"/>
<line x1="118.4" y1="496.1" x2="118.4" y2="489.4" stroke="#262626" stroke-width="1.00"/>
<line x1="118.4" y1="40.0" x2="118.4" y2="46.6" stroke="#262626" stroke-width="1.00"/>
<line x1="218.0" y1="496.1" x2="218.0" y2="489.4" stroke="#262626" stroke-width="1.00"/>
<line x1="218.0" y1="40.0" x2="218.0" y2="46.6" stroke="#262626" stroke-width="1.00"/>
<line x1="317.6" y1="496.1" x2="317.6" y2="489.4" stroke="#262626" stroke-width="1.00"/>
<line x1="317.6" y1="40.0" x2="317.6" y2="46.6" stroke="#262626" stroke-width="1.00"/>
<line x1="417.3" y1="496.1" x2="417.3" y2="489.4" stroke="#262626" stroke-width="1.00"/>
<line x1="417.3" y1="40.0" x2="417.3" y2="46.6" stroke="#262626" stroke-width="1.00"/>
<line x1="516.9" y1="496.1" x2="516.9" y2="489.4" stroke="#262626" stroke-width="1.00"/>
<line x1="516.9" y1="40.0" x2="516.9" y2="46.6" stroke="#262626" stroke-width="1.00"/>
<line x1="616.5" y1="496.1" x2="616.5" y2="489.4" stroke="#262626" stroke-width="1.00"/>
<line x1="616.5" y1="40.0" x2="616.5" y2="46.6" stroke="#262626" stroke-width="1.00"/>
<line x1="716.1" y1="496.1" x2="716.1" y2="489.4" stroke="#262626" stroke-width="1.00"/>
<line x1="716.1" y1="40.0" x2="716.1" y2="46.6" stroke="#262626" stroke-width="1.00"/>
<line x1="93.5" y1="487.4" x2="97.2" y2="487.4" stroke="#262626" stroke-width="1.00"/>
<line x1="93.5" y1="470.2" x2="97.2" y2="470.2" stroke="#262626" stroke-width="1.00"/>
<line x1="93.5" y1="453.0" x2="97.2" y2="453.0" stroke="#262626" stroke-width="1.00"/>
<line x1="93.5" y1="435.8" x2="97.2" y2="435.8" stroke="#262626" stroke-width="1.00"/>
<line x1="93.5" y1="418.6" x2="97.2" y2="418.6" stroke="#262626" stroke-width="1.00"/>
<line x1="93.5" y1="401.4" x2="97.2" y2="401.4" stroke="#262626" stroke-width="1.00"/>
<line x1="93.5" y1="384.2" x2="97.2" y2="384.2" stroke="#262626" stroke-width="1.00"/>
<line x1="93.5" y1="367.0" x2="97.2" y2="367.0" stroke="#262626" stroke-width="1.00"/>
<line x1="93.5" y1="349.8" x2="97.2" y2="349.8" stroke="#262626" stroke-width="1.00"/>
<line x1="93.5" y1="332.5" x2="97.2" y2="332.5" stroke="#262626" stroke-width="1.00"/>
<line x1="93.5" y1="315.3" x2="97.2" y2="315.3" stroke="#262626" stroke-width="1.00"/>
<line x1="93.5" y1="298.1" x2="97.2" y2="298.1" stroke="#262626" stroke-width="1.00"/>
<line x1="93.5" y1="280.9" x2="97.2" y2="280.9" stroke="#262626" stroke-width="1.00"/>
<line x1="93.5" y1="263.7" x2="97.2" y2="263.7" stroke="#262626" stroke-width="1.00"/>
<line x1="93.5" y1="246.5" x2="97.2" y2="246.5" stroke="#262626" stroke-width="1.00"/>
<line x1="93.5" y1="229.3" x2="97.2" y2="229.3" stroke="#262626" stroke-width="1.00"/>
<line x1="93.5" y1="212.1" x2="97.2" y2="212.1" stroke="#262626" stroke-width="1.00"/>
<line x1="93.5" y1="194.9" x2="97.2" y2="194.9" stroke="#262626" stroke-width="1.00"/>
<line x1="93.5" y1="177.6" x2="97.2" y2="177.6" stroke="#262626" stroke-width="1.00"/>
<line x1="93.5" y1="160.4" x2="97.2" y2="160.4" stroke="#262626" stroke-width="1.00"/>
<line x1="93.5" y1="143.2" x2="97.2" y2="143.2" stroke="#262626" stroke-width="1.00"/>
<line x1="93.5" y1="126.0" x2="97.2" y2="126.0" stroke="#262626" stroke-width="1.00"/>
<line x1="93.5" y1="108.8" x2="97.2" y2="108.8" stroke="#262626" stroke-width="1.00"/>
<line x1="93.5" y1="91.6" x2="97.2" y2="91.6" stroke="#262626" stroke-width="1.00"/>
<line x1="93.5" y1="74.4" x2="97.2" y2="74.4" stroke="#262626" stroke-width="1.00"/>
<line x1="93.5" y1="57.2" x2="97.2" y2="57.2" stroke="#262626" stroke-width="1.00"/>
<line x1="93.5" y1="39.9" x2="97.2" y2="39.9" stroke="#262626" stroke-width="1.00"/>
<line x1="93.5" y1="487.4" x2="100.0" y2="487.4" stroke="#262626" stroke-width="1.00"/>
<line x1="93.5" y1="401.4" x2="100.0" y2="401.4" stroke="#262626" stroke-width="1.00"/>
<line x1="93.5" y1="315.3" x2="100.0" y2="315.3" stroke="#262626" stroke-width="1.00"/>
<line x1="93.5" y1="229.3" x2="100.0" y2="229.3" stroke="#262626" stroke-width="1.00"/>
<line x1="93.5" y1="143.2" x2="100.0" y2="143.2" stroke="#262626" stroke-width="1.00"/>
<line x1="93.5" y1="57.2" x2="100.0" y2="57.2" stroke="#262626" stroke-width="1.00"/>
<line x1="716.1" y1="486.3" x2="712.4" y2="486.3" stroke="#262626" stroke-width="1.00"/>
<line x1="716.1" y1="466.9" x2="712.4" y2="466.9" stroke="#262626" stroke-width="1.00"/>
<line x1="716.1" y1="447.5" x2="712.4" y2="447.5" stroke="#262626" stroke-width="1.00"/>
<line x1="716.1" y1="428.1" x2="712.4" y2="428.1" stroke="#262626" stroke-width="1.00"/>
<line x1="716.1" y1="408.7" x2="712.4" y2="408.7" stroke="#262626" stroke-width="1.00"/>
<line x1="716.1" y1="389.3" x2="712.4" y2="389.3" stroke="#262626" stroke-width="1.00"/>
<line x1="716.1" y1="369.9" x2="712.4" y2="369.9" stroke="#262626" stroke-width="1.00"/>
<line x1="716.1" y1="350.5" x2="712.4" y2="350.5" stroke="#262626" stroke-width="1.00"/>
<line x1="716.1" y1="331.1" x2="712.4" y2="331.1" stroke="#262626" stroke-width="1.00"/>
<line x1="716.1" y1="311.7" x2="712.4" y2="311.7" stroke="#262626" stroke-width="1.00"/>
<line x1="716.1" y1="292.3" x2="712.4" y2="292.3" stroke="#262626" stroke-width="1.00"/>
<line x1="716.1" y1="272.9" x2="712.4" y2="272.9" stroke="#262626" stroke-width="1.00"/>
<line x1="716.1" y1="253.5" x2="712.4" y2="253.5" stroke="#262626" stroke-width="1.00"/>
<line x1="716.1" y1="234.1" x2="712.4" y2="234.1" stroke="#262626" stroke-width="1.00"/>
<line x1="716.1" y1="214.7" x2="712.4" y2="214.7" stroke="#262626" stroke-width="1.00"/>
<line x1="716.1" y1="195.3" x2="712.4" y2="195.3" stroke="#262626" stroke-width="1.00"/>
<line x1="716.1" y1="175.9" x2="712.4" y2="175.9" stroke="#262626" stroke-width="1.00"/>
<line x1="716.1" y1="156.5" x2="712.4" y2="156.5" stroke="#262626" stroke-width="1.00"/>
<line x1="716.1" y1="137.1" x2="712.4" y2="137.1" stroke="#262626" stroke-width="1.00"/>
<line x1="716.1" y1="117.7" x2="712.4" y2="117.7" stroke="#262626" stroke-width="1.00"/>
<line x1="716.1" y1="98.3" x2="712.4" y2="98.3" stroke="#262626" stroke-width="1.00"/>
<line x1="716.1" y1="78.9" x2="712.4" y2="78.9" stroke="#262626" stroke-width="1.00"/>
<line x1="716.1" y1="59.5" x2="712.4" y2="59.5" stroke="#262626" stroke-width="1.00"/>
<line x1="716.1" y1="40.1" x2="712.4" y2="40.1" stroke="#262626" stroke-width="1.00"/>
<line x1="716.1" y1="486.3" x2="709.5" y2="486.3" stroke="#262626" stroke-width="1.00"/>
<line x1="716.1" y1="389.3" x2="709.5" y2="389.3" stroke="#262626" stroke-width="1.00"/>
<line x1="716.1" y1="292.3" x2="709.5" y2="292.3" stroke="#262626" stroke-width="1.00"/>
<line x1="716.1" y1="195.3" x2="709.5" y2="195.3" stroke="#262626" stroke-width="1.00"/>
<line x1="716.1" y1="98.3" x2="709.5" y2="98.3" stroke="#262626" stroke-width="1.00"/>
<rect x="93.5" y="40.0" width="622.7" height="456.1" fill="none" stroke="#262626" stroke-width="1.1"/>
<text x="118.4" y="529.2" font-size="24.5" text-anchor="middle" font-weight="normal" >0</text>
<text x="218.0" y="529.2" font-size="24.5" text-anchor="middle" font-weight="normal" >0.2</text>
<text x="317.6" y="529.2" font-size="24.5" text-anchor="middle" font-weight="normal" >0.4</text>
<text x="417.3" y="529.2" font-size="24.5" text-anchor="middle" font-weight="normal" >0.6</text>
<text x="516.9" y="529.2" font-size="24.5" text-anchor="middle" font-weight="normal" >0.8</text>
<text x="616.5" y="529.2" font-size="24.5" text-anchor="middle" font-weight="normal" >1</text>
<text x="716.1" y="529.2" font-size="24.5" text-anchor="middle" font-weight="normal" >1.2</text>
<text x="85.0" y="496.4" font-size="24.5" text-anchor="end" font-weight="normal" >0</text>
<text x="85.0" y="410.4" font-size="24.5" text-anchor="end" font-weight="normal" >0.5</text>
<text x="85.0" y="324.3" font-size="24.5" text-anchor="end" font-weight="normal" >1</text>
<text x="85.0" y="238.3" font-size="24.5" text-anchor="end" font-weight="normal" >1.5</text>
<text x="85.0" y="152.2" font-size="24.5" text-anchor="end" font-weight="normal" >2</text>
<text x="85.0" y="66.2" font-size="24.5" text-anchor="end" font-weight="normal" >2.5</text>
<text x="723.8" y="495.3" font-size="24.5" text-anchor="start" font-weight="normal" >0</text>
<text x="723.8" y="398.3" font-size="24.5" text-anchor="start" font-weight="normal" >10</text>
<text x="723.8" y="301.3" font-size="24.5" text-anchor="start" font-weight="normal" >20</text>
<text x="723.8" y="204.3" font-size="24.5" text-anchor="start" font-weight="normal" >30</text>
<text x="723.8" y="107.3" font-size="24.5" text-anchor="start" font-weight="normal" >40</text>
<rect x="104.7" y="51.5" width="134.1" height="144.3" fill="#fff" stroke="#505050" stroke-width="1"/>
<line x1="108.8" y1="71.7" x2="149.8" y2="71.7" stroke="#000" stroke-width="3.20"/>
<circle cx="129.2" cy="71.7" r="3.7" fill="#000"/>
<line x1="108.8" y1="109.2" x2="149.8" y2="109.2" stroke="#0000ff" stroke-width="3.20"/>
<circle cx="129.2" cy="109.2" r="3.7" fill="#0000ff"/>
<line x1="108.8" y1="146.8" x2="149.8" y2="146.8" stroke="#ff0000" stroke-width="3.20"/>
<circle cx="129.2" cy="146.8" r="3.7" fill="#ff0000"/>
<line x1="108.8" y1="179.6" x2="149.8" y2="179.6" stroke="#00a300" stroke-width="3.20"/>
<circle cx="129.2" cy="179.6" r="3.7" fill="#00a300"/>
<text x="152.9" y="75.3" font-size="20.5">n<tspan font-size="16.3" dx="1.5" dy="10.4" letter-spacing="0.9">co,low</tspan></text>
<text x="152.9" y="112.8" font-size="20.5">n<tspan font-size="16.3" dx="1.5" dy="10.4" letter-spacing="0.9">co,high</tspan></text>
<text x="152.9" y="150.4" font-size="20.5">n<tspan font-size="16.3" dx="1.5" dy="10.4" letter-spacing="0.9">co,mean</tspan></text>
<text x="153.3" y="189.8" font-size="26.8" style='font-family:&quot;Liberation Serif&quot;, &quot;DejaVu Serif&quot;, serif'>Δ<tspan font-style="italic" dx="2.6">λ</tspan></text>
<text x="393.9" y="570.2" font-size="28.8" text-anchor="middle" font-weight="normal" >Absorbed dose (MGy)</text>
<text transform="translate(29.1 268.8) rotate(-90) scale(1 0.930)" font-size="27.9" text-anchor="middle">Variation of n<tspan font-size="20.8" dy="13.8">co</tspan><tspan dy="-13.8"> (x10</tspan><tspan font-size="20.8" dy="-14.6">-4</tspan><tspan dy="14.6">) (RIU)</tspan></text>
<text transform="translate(782.5 267.8) rotate(-90) scale(1 0.930)" font-size="28.6" text-anchor="middle" letter-spacing="0.3">Δλ (nm)</text>
<text x="25.2" y="24.4" font-size="31.5" text-anchor="start" font-weight="bold" >a</text>
<rect x="944.6" y="40.1" width="618.7" height="456.0" fill="#fff"/>
<line x1="969.3" y1="496.1" x2="969.3" y2="40.1" stroke="#e2e2e2" stroke-width="1.00" stroke-dasharray="10 6.4"/>
<line x1="1068.3" y1="496.1" x2="1068.3" y2="40.1" stroke="#e2e2e2" stroke-width="1.00" stroke-dasharray="10 6.4"/>
<line x1="1167.3" y1="496.1" x2="1167.3" y2="40.1" stroke="#e2e2e2" stroke-width="1.00" stroke-dasharray="10 6.4"/>
<line x1="1266.3" y1="496.1" x2="1266.3" y2="40.1" stroke="#e2e2e2" stroke-width="1.00" stroke-dasharray="10 6.4"/>
<line x1="1365.3" y1="496.1" x2="1365.3" y2="40.1" stroke="#e2e2e2" stroke-width="1.00" stroke-dasharray="10 6.4"/>
<line x1="1464.3" y1="496.1" x2="1464.3" y2="40.1" stroke="#e2e2e2" stroke-width="1.00" stroke-dasharray="10 6.4"/>
<line x1="944.6" y1="81.6" x2="1563.3" y2="81.6" stroke="#e2e2e2" stroke-width="1.00" stroke-dasharray="10 6.4"/>
<line x1="944.6" y1="164.5" x2="1563.3" y2="164.5" stroke="#e2e2e2" stroke-width="1.00" stroke-dasharray="10 6.4"/>
<line x1="944.6" y1="247.4" x2="1563.3" y2="247.4" stroke="#e2e2e2" stroke-width="1.00" stroke-dasharray="10 6.4"/>
<line x1="944.6" y1="330.3" x2="1563.3" y2="330.3" stroke="#e2e2e2" stroke-width="1.00" stroke-dasharray="10 6.4"/>
<line x1="944.6" y1="413.2" x2="1563.3" y2="413.2" stroke="#e2e2e2" stroke-width="1.00" stroke-dasharray="10 6.4"/>
<path d="M969.5 81.6 L971.2 89.8 L972.9 98.1 L974.6 104.3 L976.3 112.6 L978.0 118.8 L979.7 125.0 L981.4 131.2 L983.1 137.4 L984.8 143.7 L986.5 147.8 L988.2 154.0 L989.9 158.1 L991.6 164.4 L993.3 168.5 L995.0 172.6 L996.7 176.8 L998.4 180.9 L1000.1 185.1 L1001.8 187.1 L1003.5 191.3 L1005.2 193.3 L1006.9 197.5 L1008.6 199.5 L1010.3 203.7 L1012.0 205.8 L1013.7 207.8 L1015.4 209.9 L1017.1 212.0 L1018.8 214.0 L1020.5 216.1 L1022.2 218.2 L1023.9 220.2 L1025.6 222.3 L1027.3 224.4 L1029.0 226.5 L1030.7 226.5 L1032.4 228.5 L1034.1 230.6 L1035.8 230.6 L1037.5 232.7 L1039.2 234.7 L1040.9 236.8 L1042.6 236.8 L1044.3 238.9 L1046.0 240.9 L1047.7 240.9 L1049.4 243.0 L1051.1 245.1 L1052.8 245.1 L1054.5 247.2 L1056.2 249.2 L1057.9 249.2 L1059.6 251.3 L1061.3 253.4 L1063.0 253.4 L1064.7 255.4 L1066.4 257.5 L1068.1 257.5 L1069.8 259.6 L1071.5 259.6 L1073.2 261.6 L1074.9 263.7 L1076.6 263.7 L1078.3 265.8 L1080.0 265.8 L1081.7 267.9 L1083.4 269.9 L1085.1 269.9 L1086.8 272.0 L1088.5 272.0 L1090.2 274.1 L1091.9 276.1 L1093.6 276.1 L1095.3 278.2 L1097.0 278.2 L1098.7 280.3 L1100.4 282.3 L1102.1 282.3 L1103.8 284.4 L1105.5 284.4 L1107.2 286.5 L1108.9 286.5 L1110.6 288.6 L1112.3 288.6 L1114.0 290.6 L1115.7 292.7 L1117.4 292.7 L1119.1 294.8 L1120.8 294.8 L1122.5 296.8 L1124.2 296.8 L1125.9 298.9 L1127.6 298.9 L1129.3 301.0 L1131.0 301.0 L1132.7 303.0 L1134.4 305.1 L1136.1 305.1 L1137.8 307.2 L1139.5 307.2 L1141.2 309.3 L1142.9 309.3 L1144.6 311.3 L1146.3 311.3 L1148.0 313.4 L1149.7 313.4 L1151.4 315.5 L1153.1 315.5 L1154.8 317.5 L1156.5 317.5 L1158.2 319.6 L1159.9 319.6 L1161.6 321.7 L1163.3 321.7 L1165.0 323.7 L1166.7 323.7 L1168.4 325.8 L1170.1 325.8 L1171.8 327.9 L1173.5 327.9 L1175.2 330.0 L1176.9 330.0 L1178.6 332.0 L1180.3 332.0 L1182.0 334.1 L1183.7 334.1 L1185.4 336.2 L1187.1 336.2 L1188.8 338.2 L1190.5 338.2 L1192.2 340.3 L1193.9 340.3 L1195.6 340.3 L1197.3 342.4 L1199.0 342.4 L1200.7 344.4 L1202.4 344.4 L1204.1 346.5 L1205.8 346.5 L1207.5 348.6 L1209.2 348.6 L1210.9 350.7 L1212.6 350.7 L1214.3 350.7 L1216.0 352.7 L1217.7 352.7 L1219.4 354.8 L1221.1 354.8 L1222.8 356.9 L1224.5 356.9 L1226.2 358.9 L1227.9 358.9 L1229.6 358.9 L1231.3 361.0 L1233.0 361.0 L1234.7 363.1 L1236.4 363.1 L1238.1 365.1 L1239.8 365.1 L1241.5 365.1 L1243.2 367.2 L1244.9 367.2 L1246.6 369.3 L1248.3 369.3 L1250.0 369.3 L1251.7 371.4 L1253.4 371.4 L1255.1 373.4 L1256.8 373.4 L1258.5 373.4 L1260.2 375.5 L1261.9 375.5 L1263.6 377.6 L1265.3 377.6 L1267.0 377.6 L1268.7 379.6 L1270.4 379.6 L1272.1 381.7 L1273.8 381.7 L1275.5 381.7 L1277.2 383.8 L1278.9 383.8 L1280.6 385.8 L1282.3 385.8 L1284.0 385.8 L1285.7 387.9 L1287.4 387.9 L1289.1 387.9 L1290.8 390.0 L1292.5 390.0 L1294.2 390.0 L1295.9 392.1 L1297.6 392.1 L1299.3 394.1 L1301.0 394.1 L1302.7 394.1 L1304.4 396.2 L1306.1 396.2 L1307.8 396.2 L1309.5 398.3 L1311.2 398.3 L1312.9 398.3 L1314.6 400.3 L1316.3 400.3 L1318.0 400.3 L1319.7 402.4 L1321.4 402.4 L1323.1 402.4 L1324.8 404.5 L1326.5 404.5 L1328.2 404.5 L1329.9 406.5 L1331.6 406.5 L1333.3 406.5 L1335.0 408.6 L1336.7 408.6 L1338.4 408.6 L1340.1 410.7 L1341.8 410.7 L1343.5 410.7 L1345.2 412.8 L1346.9 412.8 L1348.6 412.8 L1350.3 414.8 L1352.0 414.8 L1353.7 414.8 L1355.4 414.8 L1357.1 416.9 L1358.8 416.9 L1360.5 416.9 L1362.2 419.0 L1363.9 419.0 L1365.6 419.0 L1367.3 419.0 L1369.0 421.0 L1370.7 421.0 L1372.4 421.0 L1374.1 423.1 L1375.8 423.1 L1377.5 423.1 L1379.2 423.1 L1380.9 425.2 L1382.6 425.2 L1384.3 425.2 L1386.0 427.2 L1387.7 427.2 L1389.4 427.2 L1391.1 427.2 L1392.8 429.3 L1394.5 429.3 L1396.2 429.3 L1397.9 429.3 L1399.6 431.4 L1401.3 431.4 L1403.0 431.4 L1404.7 431.4 L1406.4 433.5 L1408.1 433.5 L1409.8 433.5 L1411.5 433.5 L1413.2 435.5 L1414.9 435.5 L1416.6 435.5 L1418.3 435.5 L1420.0 437.6 L1421.7 437.6 L1423.4 437.6 L1425.1 437.6 L1426.8 439.7 L1428.5 439.7 L1430.2 439.7 L1431.9 439.7 L1433.6 441.7 L1435.3 441.7 L1437.0 441.7 L1438.7 441.7 L1440.4 441.7 L1442.1 443.8 L1443.8 443.8 L1445.5 443.8 L1447.2 443.8 L1448.9 445.9 L1450.6 445.9 L1452.3 445.9 L1454.0 445.9 L1455.7 445.9 L1457.4 447.9 L1459.1 447.9 L1460.8 447.9 L1462.5 447.9 L1464.2 447.9 L1465.9 450.0 L1467.6 450.0 L1469.3 450.0 L1471.0 450.0 L1472.7 452.1 L1474.4 452.1 L1476.1 452.1 L1477.8 452.1 L1479.5 452.1 L1481.2 452.1 L1482.9 454.2 L1484.6 454.2 L1486.3 454.2 L1488.0 454.2 L1489.7 454.2 L1491.4 456.2 L1493.1 456.2 L1494.8 456.2 L1496.5 456.2 L1498.2 456.2 L1499.9 458.3 L1501.6 458.3 L1503.3 458.3 L1505.0 458.3 L1506.7 458.3 L1508.4 458.3 L1510.1 460.4 L1511.8 460.4 L1513.5 460.4 L1515.2 460.4 L1516.9 460.4 L1518.6 460.4 L1520.3 462.4 L1522.0 462.4 L1523.7 462.4 L1525.4 462.4 L1527.1 462.4 L1528.8 462.4 L1530.5 464.5 L1532.2 464.5 L1533.9 464.5 L1535.6 464.5 L1537.3 464.5 L1539.0 464.5 L1540.7 466.6 L1542.4 466.6 L1544.1 466.6" fill="none" stroke="#0000ff" stroke-width="8.8" stroke-linecap="round" stroke-linejoin="round"/>
<path d="M982.9 171.5 L983.0 172.5 L983.1 173.5 L983.3 174.5 L983.4 175.5 L983.5 176.5 L983.7 177.5 L983.9 178.5 L984.0 179.4 L984.2 180.4 L984.4 181.4 L984.6 182.4 L984.9 183.4 L985.1 184.3 L985.4 185.3 L985.6 186.3 L985.8 187.3 L986.0 188.2 L986.3 189.2 L986.5 190.2 L986.7 191.1 L987.0 192.1 L987.2 193.1 L987.5 194.1 L987.7 195.0 L988.0 196.0 L988.2 197.0 L988.5 197.9 L988.8 198.9 L989.0 199.9 L989.3 200.8 L989.6 201.8 L989.9 202.7 L990.1 203.7 L990.4 204.7 L990.7 205.6 L991.0 206.6 L991.3 207.5 L991.6 208.5 L991.9 209.5 L992.2 210.4 L992.5 211.4" fill="none" stroke="#ff0000" stroke-width="3" stroke-linejoin="round"/>
<path d="M969.5 67.3 L969.6 68.3 L969.6 69.3 L969.7 70.3 L969.8 71.3 L969.9 72.3 L970.0 73.3 L970.1 74.3 L970.2 75.3 L970.2 76.3 L970.3 77.3 L970.4 78.3 L970.5 79.3 L970.6 80.3 L970.7 81.3 L970.8 82.3 L971.0 83.3 L971.1 84.2 L971.2 85.2 L971.3 86.2 L971.4 87.2 L971.5 88.2 L971.7 89.2 L971.8 90.2 L971.9 91.2 L972.0 92.2 L972.1 93.2 L972.2 94.2 L972.3 95.2 L972.4 96.2 L972.5 97.2 L972.6 98.2 L972.6 99.2 L972.7 100.2 L972.8 101.2 L972.9 102.2 L973.0 103.2 L973.1 104.2 L973.2 105.2 L973.3 106.2 L973.4 107.2 L973.5 108.2 L973.6 109.1 L973.7 110.1 L973.8 111.1 L973.9 112.1 L974.0 113.1 L974.1 114.1 L974.2 115.1 L974.4 116.1 L974.5 117.1 L974.6 118.1 L974.7 119.1 L974.8 120.1 L975.0 121.1 L975.1 122.1 L975.3 123.1 L975.4 124.1 L975.6 125.0 L975.8 126.0 L975.9 127.0 L976.1 128.0 L976.3 129.0 L976.5 130.0 L976.7 130.9 L976.9 131.9 L977.1 132.9 L977.3 133.9 L977.5 134.9 L977.7 135.9 L977.9 136.8 L978.1 137.8 L978.3 138.8 L978.5 139.8 L978.7 140.8 L978.9 141.8 L979.0 142.7 L979.2 143.7 L979.4 144.7 L979.5 145.7 L979.7 146.7 L979.8 147.7 L980.0 148.7 L980.1 149.7 L980.2 150.6 L980.4 151.6 L980.5 152.6 L980.6 153.6 L980.8 154.6 L980.9 155.6 L981.0 156.6 L981.1 157.6 L981.3 158.6 L981.4 159.6 L981.5 160.6 L981.6 161.6 L981.8 162.6 L981.9 163.6 L982.0 164.6 L982.2 165.5 L982.3 166.5 L982.4 167.5 L982.5 168.5 L982.7 169.5 L982.8 170.5 L982.9 171.5 L983.0 172.5 L983.1 173.5" fill="none" stroke="#ff0000" stroke-width="8.8" stroke-linecap="round" stroke-linejoin="round"/>
<path d="M991.9 209.5 L992.2 210.4 L992.5 211.4 L992.8 212.3 L993.1 213.3 L993.4 214.2 L993.7 215.2 L994.1 216.1 L994.4 217.1 L994.7 218.0 L995.1 218.9 L995.4 219.9 L995.8 220.8 L996.2 221.8 L996.5 222.7 L996.9 223.6 L997.3 224.5 L997.7 225.5 L998.1 226.4 L998.4 227.3 L998.8 228.2 L999.2 229.1 L999.6 230.1 L1000.0 231.0 L1000.4 231.9 L1000.9 232.8 L1001.3 233.7 L1001.7 234.6 L1002.1 235.5 L1002.5 236.4 L1003.0 237.3 L1003.4 238.3 L1003.9 239.1 L1004.3 240.0 L1004.8 240.9 L1005.2 241.8 L1005.7 242.7 L1006.2 243.6 L1006.6 244.5 L1007.1 245.3 L1007.6 246.2 L1008.1 247.1 L1008.7 247.9 L1009.2 248.8 L1009.7 249.6 L1010.3 250.5 L1010.8 251.3 L1011.4 252.1 L1011.9 253.0 L1012.5 253.8 L1013.1 254.6 L1013.6 255.5 L1014.2 256.3 L1014.7 257.1 L1015.3 258.0 L1015.8 258.8 L1016.4 259.6 L1017.0 260.4 L1017.5 261.3 L1018.1 262.1 L1018.7 262.9 L1019.2 263.7 L1019.8 264.6 L1020.4 265.4 L1021.0 266.2 L1021.6 267.0 L1022.2 267.8 L1022.8 268.6 L1023.5 269.3 L1024.1 270.1 L1024.7 270.9 L1025.4 271.6 L1026.1 272.4 L1026.7 273.1 L1027.4 273.9 L1028.1 274.6 L1028.8 275.3 L1029.5 276.0 L1030.2 276.7 L1031.0 277.4 L1031.7 278.1 L1032.4 278.8 L1033.1 279.4 L1033.9 280.1 L1034.6 280.8 L1035.3 281.5 L1036.1 282.2 L1036.8 282.8 L1037.6 283.5 L1038.3 284.2 L1039.1 284.8 L1039.8 285.5 L1040.6 286.1 L1041.4 286.8 L1042.1 287.4 L1042.9 288.1 L1043.7 288.7 L1044.5 289.3 L1045.2 289.9 L1046.0 290.6 L1046.8 291.2 L1047.6 291.8 L1048.4 292.4 L1049.2 293.0 L1050.0 293.6 L1050.8 294.2 L1051.6 294.8 L1052.4 295.4 L1053.2 296.0 L1054.0 296.6 L1054.8 297.2 L1055.7 297.7 L1056.5 298.3 L1057.3 298.9 L1058.1 299.5 L1058.9 300.0 L1059.8 300.6 L1060.6 301.2 L1061.4 301.7 L1062.3 302.3 L1063.1 302.8 L1063.9 303.4 L1064.8 303.9 L1065.6 304.5 L1066.4 305.0 L1067.3 305.6 L1068.1 306.1 L1069.0 306.7 L1069.8 307.2 L1070.7 307.7 L1071.5 308.3 L1072.4 308.8 L1073.2 309.3 L1074.1 309.9 L1074.9 310.4 L1075.8 310.9 L1076.6 311.4 L1077.5 311.9 L1078.3 312.5 L1079.2 313.0 L1080.0 313.5 L1080.9 314.0 L1081.8 314.5 L1082.6 315.0 L1083.5 315.5 L1084.4 316.0 L1085.2 316.5 L1086.1 317.0 L1087.0 317.5 L1087.8 318.0 L1088.7 318.5 L1089.6 319.0 L1090.4 319.5 L1091.3 320.0 L1092.2 320.5 L1093.1 321.0 L1093.9 321.5 L1094.8 322.0 L1095.7 322.5 L1096.6 322.9 L1097.4 323.4 L1098.3 323.9 L1099.2 324.4 L1100.1 324.9 L1100.9 325.4 L1101.8 325.8 L1102.7 326.3 L1103.6 326.8 L1104.5 327.3 L1105.3 327.7 L1106.2 328.2 L1107.1 328.7 L1108.0 329.1 L1108.9 329.6 L1109.8 330.1 L1110.7 330.5 L1111.5 331.0 L1112.4 331.5 L1113.3 331.9 L1114.2 332.4 L1115.1 332.8 L1116.0 333.3 L1116.9 333.8 L1117.8 334.2 L1118.7 334.7 L1119.6 335.1 L1120.5 335.6 L1121.3 336.0 L1122.2 336.5 L1123.1 336.9 L1124.0 337.4 L1124.9 337.8 L1125.8 338.3 L1126.7 338.7 L1127.6 339.1 L1128.5 339.6 L1129.4 340.0 L1130.3 340.5 L1131.2 340.9 L1132.1 341.4 L1133.0 341.8 L1133.9 342.2 L1134.8 342.7 L1135.7 343.1 L1136.6 343.5 L1137.5 344.0 L1138.4 344.4 L1139.3 344.8 L1140.2 345.2 L1141.2 345.7 L1142.1 346.1 L1143.0 346.5 L1143.9 346.9 L1144.8 347.4 L1145.7 347.8 L1146.6 348.2 L1147.5 348.6 L1148.4 349.0 L1149.3 349.5 L1150.2 349.9 L1151.2 350.3 L1152.1 350.7 L1153.0 351.1 L1153.9 351.5 L1154.8 351.9 L1155.7 352.3 L1156.6 352.7 L1157.5 353.2 L1158.5 353.6 L1159.4 354.0 L1160.3 354.4 L1161.2 354.8 L1162.1 355.2 L1163.1 355.6 L1164.0 356.0 L1164.9 356.4 L1165.8 356.8 L1166.7 357.1 L1167.7 357.5 L1168.6 357.9 L1169.5 358.3 L1170.4 358.7 L1171.3 359.1 L1172.3 359.5 L1173.2 359.9 L1174.1 360.3 L1175.0 360.6 L1176.0 361.0 L1176.9 361.4 L1177.8 361.8 L1178.7 362.2 L1179.7 362.6 L1180.6 362.9 L1181.5 363.3 L1182.4 363.7 L1183.4 364.1 L1184.3 364.4 L1185.2 364.8 L1186.2 365.2 L1187.1 365.5 L1188.0 365.9 L1189.0 366.3 L1189.9 366.6 L1190.8 367.0 L1191.8 367.4 L1192.7 367.7 L1193.6 368.1 L1194.6 368.4 L1195.5 368.8 L1196.4 369.2 L1197.4 369.5 L1198.3 369.9 L1199.2 370.2 L1200.2 370.6 L1201.1 370.9 L1202.0 371.3 L1203.0 371.6 L1203.9 372.0 L1204.9 372.3 L1205.8 372.7 L1206.7 373.0 L1207.7 373.4 L1208.6 373.7 L1209.6 374.0 L1210.5 374.4 L1211.5 374.7 L1212.4 375.1 L1213.3 375.4 L1214.3 375.7 L1215.2 376.1 L1216.2 376.4 L1217.1 376.7 L1218.1 377.1 L1219.0 377.4 L1220.0 377.7 L1220.9 378.0 L1221.8 378.4 L1222.8 378.7 L1223.7 379.0 L1224.7 379.3 L1225.6 379.7 L1226.6 380.0 L1227.5 380.3 L1228.5 380.6 L1229.4 380.9 L1230.4 381.2 L1231.3 381.6 L1232.3 381.9 L1233.2 382.2 L1234.2 382.5 L1235.1 382.8 L1236.1 383.1 L1237.1 383.4 L1238.0 383.7 L1239.0 384.0 L1239.9 384.3 L1240.9 384.6 L1241.8 384.9 L1242.8 385.2 L1243.7 385.5 L1244.7 385.8 L1245.6 386.1 L1246.6 386.4 L1247.6 386.7 L1248.5 387.0 L1249.5 387.3 L1250.4 387.6 L1251.4 387.9 L1252.4 388.2 L1253.3 388.4 L1254.3 388.7 L1255.2 389.0 L1256.2 389.3 L1257.2 389.6 L1258.1 389.9 L1259.1 390.1 L1260.0 390.4 L1261.0 390.7 L1262.0 391.0 L1262.9 391.2 L1263.9 391.5 L1264.8 391.8 L1265.8 392.1 L1266.8 392.3 L1267.7 392.6 L1268.7 392.9 L1269.7 393.2 L1270.6 393.4 L1271.6 393.7 L1272.6 393.9 L1273.5 394.2 L1274.5 394.5 L1275.5 394.7 L1276.4 395.0 L1277.4 395.3 L1278.4 395.5 L1279.3 395.8 L1280.3 396.0 L1281.3 396.3 L1282.2 396.5 L1283.2 396.8 L1284.2 397.0 L1285.1 397.3 L1286.1 397.5 L1287.1 397.8 L1288.1 398.0 L1289.0 398.3 L1290.0 398.5 L1291.0 398.8 L1291.9 399.0 L1292.9 399.3 L1293.9 399.5 L1294.8 399.7 L1295.8 400.0 L1296.8 400.2 L1297.8 400.5 L1298.7 400.7 L1299.7 400.9 L1300.7 401.2 L1301.7 401.4 L1302.6 401.6 L1303.6 401.9 L1304.6 402.1 L1305.6 402.3 L1306.5 402.6 L1307.5 402.8 L1308.5 403.0 L1309.5 403.2 L1310.4 403.5 L1311.4 403.7 L1312.4 403.9 L1313.4 404.1 L1314.3 404.4 L1315.3 404.6 L1316.3 404.8 L1317.3 405.0 L1318.2 405.2 L1319.2 405.5 L1320.2 405.7 L1321.2 405.9 L1322.2 406.1 L1323.1 406.3 L1324.1 406.5 L1325.1 406.7 L1326.1 406.9 L1327.0 407.2 L1328.0 407.4 L1329.0 407.6 L1330.0 407.8 L1331.0 408.0 L1331.9 408.2 L1332.9 408.4 L1333.9 408.6 L1334.9 408.8 L1335.9 409.0 L1336.8 409.2 L1337.8 409.4 L1338.8 409.6 L1339.8 409.8 L1340.8 410.0 L1341.8 410.2 L1342.7 410.4 L1343.7 410.6 L1344.7 410.8 L1345.7 411.0 L1346.7 411.2 L1347.6 411.4 L1348.6 411.6 L1349.6 411.8 L1350.6 411.9 L1351.6 412.1 L1352.6 412.3 L1353.5 412.5 L1354.5 412.7 L1355.5 412.9 L1356.5 413.1 L1357.5 413.3 L1358.5 413.4 L1359.4 413.6 L1360.4 413.8 L1361.4 414.0 L1362.4 414.2 L1363.4 414.3 L1364.4 414.5 L1365.4 414.7 L1366.3 414.9 L1367.3 415.1 L1368.3 415.2 L1369.3 415.4 L1370.3 415.6 L1371.3 415.8 L1372.3 415.9 L1373.2 416.1 L1374.2 416.3 L1375.2 416.5 L1376.2 416.6 L1377.2 416.8 L1378.2 417.0 L1379.2 417.1 L1380.1 417.3 L1381.1 417.5 L1382.1 417.6 L1383.1 417.8 L1384.1 418.0 L1385.1 418.1 L1386.1 418.3 L1387.1 418.5 L1388.0 418.6 L1389.0 418.8 L1390.0 419.0 L1391.0 419.1 L1392.0 419.3 L1393.0 419.4 L1394.0 419.6 L1395.0 419.7 L1396.0 419.9 L1396.9 420.1 L1397.9 420.2 L1398.9 420.4 L1399.9 420.5 L1400.9 420.7 L1401.9 420.8 L1402.9 421.0 L1403.9 421.1 L1404.9 421.3 L1405.8 421.5 L1406.8 421.6 L1407.8 421.8 L1408.8 421.9 L1409.8 422.1 L1410.8 422.2 L1411.8 422.4 L1412.8 422.5 L1413.8 422.6 L1414.8 422.8 L1415.8 422.9 L1416.7 423.1 L1417.7 423.2 L1418.7 423.4 L1419.7 423.5 L1420.7 423.7 L1421.7 423.8 L1422.7 423.9 L1423.7 424.1 L1424.7 424.2 L1425.7 424.4 L1426.7 424.5 L1427.6 424.6 L1428.6 424.8 L1429.6 424.9 L1430.6 425.1 L1431.6 425.2 L1432.6 425.3 L1433.6 425.5 L1434.6 425.6 L1435.6 425.7 L1436.6 425.9 L1437.6 426.0 L1438.6 426.1 L1439.5 426.3 L1440.5 426.4 L1441.5 426.5 L1442.5 426.7 L1443.5 426.8 L1444.5 426.9 L1445.5 427.1 L1446.5 427.2 L1447.5 427.3 L1448.5 427.4 L1449.5 427.6 L1450.5 427.7 L1451.5 427.8 L1452.5 427.9 L1453.4 428.1 L1454.4 428.2 L1455.4 428.3 L1456.4 428.4 L1457.4 428.6 L1458.4 428.7 L1459.4 428.8 L1460.4 428.9 L1461.4 429.1 L1462.4 429.2 L1463.4 429.3 L1464.4 429.4 L1465.4 429.5 L1466.4 429.6 L1467.4 429.8 L1468.4 429.9 L1469.4 430.0 L1470.3 430.1 L1471.3 430.2 L1472.3 430.4 L1473.3 430.5 L1474.3 430.6 L1475.3 430.7 L1476.3 430.8 L1477.3 430.9 L1478.3 431.0 L1479.3 431.1 L1480.3 431.2 L1481.3 431.4 L1482.3 431.5 L1483.3 431.6 L1484.3 431.7 L1485.3 431.8 L1486.3 431.9 L1487.3 432.0 L1488.3 432.1 L1489.3 432.2 L1490.3 432.3 L1491.2 432.4 L1492.2 432.5 L1493.2 432.6 L1494.2 432.7 L1495.2 432.8 L1496.2 432.9 L1497.2 433.0 L1498.2 433.1 L1499.2 433.3 L1500.2 433.4 L1501.2 433.5 L1502.2 433.6 L1503.2 433.6 L1504.2 433.7 L1505.2 433.8 L1506.2 433.9 L1507.2 434.0 L1508.2 434.1 L1509.2 434.2 L1510.2 434.3 L1511.2 434.4 L1512.2 434.5 L1513.2 434.6 L1514.2 434.7 L1515.2 434.8 L1516.2 434.9 L1517.2 435.0 L1518.2 435.0 L1519.2 435.1 L1520.1 435.2 L1521.1 435.3 L1522.1 435.4 L1523.1 435.5 L1524.1 435.6 L1525.1 435.6 L1526.1 435.7 L1527.1 435.8 L1528.1 435.9 L1529.1 436.0 L1530.1 436.1 L1531.1 436.1 L1532.1 436.2 L1533.1 436.3 L1534.1 436.4 L1535.1 436.5 L1536.1 436.5 L1537.1 436.6 L1538.1 436.7 L1539.1 436.8 L1540.1 436.8 L1541.1 436.9 L1542.1 437.0 L1543.1 437.1 L1544.1 437.1 L1545.1 437.2" fill="none" stroke="#ff0000" stroke-width="8.8" stroke-linecap="round" stroke-linejoin="round"/>
<path d="M984.0 179.3h0M985.5 185.9h0M987.1 192.6h0M988.7 198.7h0M990.5 204.7h0" fill="none" stroke="#ff0000" stroke-width="8.2" stroke-linecap="round"/>
<line x1="969.0" y1="269.1" x2="996.0" y2="269.1" stroke="#0000ff" stroke-width="3.00"/>
<polygon points="950.5,269 969.8,259.8 969.8,278.6" fill="#0000ff"/>
<line x1="1503.9" y1="407.1" x2="1531.0" y2="407.1" stroke="#ff0000" stroke-width="3.00"/>
<polygon points="1549.6,407.3 1530.3,398 1530.3,416.8" fill="#ff0000"/>
<line x1="969.3" y1="496.1" x2="969.3" y2="492.4" stroke="#262626" stroke-width="1.00"/>
<line x1="969.3" y1="40.1" x2="969.3" y2="43.8" stroke="#262626" stroke-width="1.00"/>
<line x1="994.1" y1="496.1" x2="994.1" y2="492.4" stroke="#262626" stroke-width="1.00"/>
<line x1="994.1" y1="40.1" x2="994.1" y2="43.8" stroke="#262626" stroke-width="1.00"/>
<line x1="1018.8" y1="496.1" x2="1018.8" y2="492.4" stroke="#262626" stroke-width="1.00"/>
<line x1="1018.8" y1="40.1" x2="1018.8" y2="43.8" stroke="#262626" stroke-width="1.00"/>
<line x1="1043.6" y1="496.1" x2="1043.6" y2="492.4" stroke="#262626" stroke-width="1.00"/>
<line x1="1043.6" y1="40.1" x2="1043.6" y2="43.8" stroke="#262626" stroke-width="1.00"/>
<line x1="1068.3" y1="496.1" x2="1068.3" y2="492.4" stroke="#262626" stroke-width="1.00"/>
<line x1="1068.3" y1="40.1" x2="1068.3" y2="43.8" stroke="#262626" stroke-width="1.00"/>
<line x1="1093.1" y1="496.1" x2="1093.1" y2="492.4" stroke="#262626" stroke-width="1.00"/>
<line x1="1093.1" y1="40.1" x2="1093.1" y2="43.8" stroke="#262626" stroke-width="1.00"/>
<line x1="1117.8" y1="496.1" x2="1117.8" y2="492.4" stroke="#262626" stroke-width="1.00"/>
<line x1="1117.8" y1="40.1" x2="1117.8" y2="43.8" stroke="#262626" stroke-width="1.00"/>
<line x1="1142.6" y1="496.1" x2="1142.6" y2="492.4" stroke="#262626" stroke-width="1.00"/>
<line x1="1142.6" y1="40.1" x2="1142.6" y2="43.8" stroke="#262626" stroke-width="1.00"/>
<line x1="1167.3" y1="496.1" x2="1167.3" y2="492.4" stroke="#262626" stroke-width="1.00"/>
<line x1="1167.3" y1="40.1" x2="1167.3" y2="43.8" stroke="#262626" stroke-width="1.00"/>
<line x1="1192.1" y1="496.1" x2="1192.1" y2="492.4" stroke="#262626" stroke-width="1.00"/>
<line x1="1192.1" y1="40.1" x2="1192.1" y2="43.8" stroke="#262626" stroke-width="1.00"/>
<line x1="1216.8" y1="496.1" x2="1216.8" y2="492.4" stroke="#262626" stroke-width="1.00"/>
<line x1="1216.8" y1="40.1" x2="1216.8" y2="43.8" stroke="#262626" stroke-width="1.00"/>
<line x1="1241.6" y1="496.1" x2="1241.6" y2="492.4" stroke="#262626" stroke-width="1.00"/>
<line x1="1241.6" y1="40.1" x2="1241.6" y2="43.8" stroke="#262626" stroke-width="1.00"/>
<line x1="1266.3" y1="496.1" x2="1266.3" y2="492.4" stroke="#262626" stroke-width="1.00"/>
<line x1="1266.3" y1="40.1" x2="1266.3" y2="43.8" stroke="#262626" stroke-width="1.00"/>
<line x1="1291.1" y1="496.1" x2="1291.1" y2="492.4" stroke="#262626" stroke-width="1.00"/>
<line x1="1291.1" y1="40.1" x2="1291.1" y2="43.8" stroke="#262626" stroke-width="1.00"/>
<line x1="1315.8" y1="496.1" x2="1315.8" y2="492.4" stroke="#262626" stroke-width="1.00"/>
<line x1="1315.8" y1="40.1" x2="1315.8" y2="43.8" stroke="#262626" stroke-width="1.00"/>
<line x1="1340.6" y1="496.1" x2="1340.6" y2="492.4" stroke="#262626" stroke-width="1.00"/>
<line x1="1340.6" y1="40.1" x2="1340.6" y2="43.8" stroke="#262626" stroke-width="1.00"/>
<line x1="1365.3" y1="496.1" x2="1365.3" y2="492.4" stroke="#262626" stroke-width="1.00"/>
<line x1="1365.3" y1="40.1" x2="1365.3" y2="43.8" stroke="#262626" stroke-width="1.00"/>
<line x1="1390.1" y1="496.1" x2="1390.1" y2="492.4" stroke="#262626" stroke-width="1.00"/>
<line x1="1390.1" y1="40.1" x2="1390.1" y2="43.8" stroke="#262626" stroke-width="1.00"/>
<line x1="1414.8" y1="496.1" x2="1414.8" y2="492.4" stroke="#262626" stroke-width="1.00"/>
<line x1="1414.8" y1="40.1" x2="1414.8" y2="43.8" stroke="#262626" stroke-width="1.00"/>
<line x1="1439.6" y1="496.1" x2="1439.6" y2="492.4" stroke="#262626" stroke-width="1.00"/>
<line x1="1439.6" y1="40.1" x2="1439.6" y2="43.8" stroke="#262626" stroke-width="1.00"/>
<line x1="1464.3" y1="496.1" x2="1464.3" y2="492.4" stroke="#262626" stroke-width="1.00"/>
<line x1="1464.3" y1="40.1" x2="1464.3" y2="43.8" stroke="#262626" stroke-width="1.00"/>
<line x1="1489.1" y1="496.1" x2="1489.1" y2="492.4" stroke="#262626" stroke-width="1.00"/>
<line x1="1489.1" y1="40.1" x2="1489.1" y2="43.8" stroke="#262626" stroke-width="1.00"/>
<line x1="1513.8" y1="496.1" x2="1513.8" y2="492.4" stroke="#262626" stroke-width="1.00"/>
<line x1="1513.8" y1="40.1" x2="1513.8" y2="43.8" stroke="#262626" stroke-width="1.00"/>
<line x1="1538.6" y1="496.1" x2="1538.6" y2="492.4" stroke="#262626" stroke-width="1.00"/>
<line x1="1538.6" y1="40.1" x2="1538.6" y2="43.8" stroke="#262626" stroke-width="1.00"/>
<line x1="1563.3" y1="496.1" x2="1563.3" y2="492.4" stroke="#262626" stroke-width="1.00"/>
<line x1="1563.3" y1="40.1" x2="1563.3" y2="43.8" stroke="#262626" stroke-width="1.00"/>
<line x1="969.3" y1="496.1" x2="969.3" y2="489.5" stroke="#262626" stroke-width="1.00"/>
<line x1="969.3" y1="40.1" x2="969.3" y2="46.7" stroke="#262626" stroke-width="1.00"/>
<line x1="1068.3" y1="496.1" x2="1068.3" y2="489.5" stroke="#262626" stroke-width="1.00"/>
<line x1="1068.3" y1="40.1" x2="1068.3" y2="46.7" stroke="#262626" stroke-width="1.00"/>
<line x1="1167.3" y1="496.1" x2="1167.3" y2="489.5" stroke="#262626" stroke-width="1.00"/>
<line x1="1167.3" y1="40.1" x2="1167.3" y2="46.7" stroke="#262626" stroke-width="1.00"/>
<line x1="1266.3" y1="496.1" x2="1266.3" y2="489.5" stroke="#262626" stroke-width="1.00"/>
<line x1="1266.3" y1="40.1" x2="1266.3" y2="46.7" stroke="#262626" stroke-width="1.00"/>
<line x1="1365.3" y1="496.1" x2="1365.3" y2="489.5" stroke="#262626" stroke-width="1.00"/>
<line x1="1365.3" y1="40.1" x2="1365.3" y2="46.7" stroke="#262626" stroke-width="1.00"/>
<line x1="1464.3" y1="496.1" x2="1464.3" y2="489.5" stroke="#262626" stroke-width="1.00"/>
<line x1="1464.3" y1="40.1" x2="1464.3" y2="46.7" stroke="#262626" stroke-width="1.00"/>
<line x1="1563.3" y1="496.1" x2="1563.3" y2="489.5" stroke="#262626" stroke-width="1.00"/>
<line x1="1563.3" y1="40.1" x2="1563.3" y2="46.7" stroke="#262626" stroke-width="1.00"/>
<line x1="944.6" y1="496.1" x2="948.3" y2="496.1" stroke="#262626" stroke-width="1.00"/>
<line x1="944.6" y1="475.4" x2="948.3" y2="475.4" stroke="#262626" stroke-width="1.00"/>
<line x1="944.6" y1="454.6" x2="948.3" y2="454.6" stroke="#262626" stroke-width="1.00"/>
<line x1="944.6" y1="433.9" x2="948.3" y2="433.9" stroke="#262626" stroke-width="1.00"/>
<line x1="944.6" y1="413.2" x2="948.3" y2="413.2" stroke="#262626" stroke-width="1.00"/>
<line x1="944.6" y1="392.5" x2="948.3" y2="392.5" stroke="#262626" stroke-width="1.00"/>
<line x1="944.6" y1="371.7" x2="948.3" y2="371.7" stroke="#262626" stroke-width="1.00"/>
<line x1="944.6" y1="351.0" x2="948.3" y2="351.0" stroke="#262626" stroke-width="1.00"/>
<line x1="944.6" y1="330.3" x2="948.3" y2="330.3" stroke="#262626" stroke-width="1.00"/>
<line x1="944.6" y1="309.6" x2="948.3" y2="309.6" stroke="#262626" stroke-width="1.00"/>
<line x1="944.6" y1="288.8" x2="948.3" y2="288.8" stroke="#262626" stroke-width="1.00"/>
<line x1="944.6" y1="268.1" x2="948.3" y2="268.1" stroke="#262626" stroke-width="1.00"/>
<line x1="944.6" y1="247.4" x2="948.3" y2="247.4" stroke="#262626" stroke-width="1.00"/>
<line x1="944.6" y1="226.6" x2="948.3" y2="226.6" stroke="#262626" stroke-width="1.00"/>
<line x1="944.6" y1="205.9" x2="948.3" y2="205.9" stroke="#262626" stroke-width="1.00"/>
<line x1="944.6" y1="185.2" x2="948.3" y2="185.2" stroke="#262626" stroke-width="1.00"/>
<line x1="944.6" y1="164.5" x2="948.3" y2="164.5" stroke="#262626" stroke-width="1.00"/>
<line x1="944.6" y1="143.7" x2="948.3" y2="143.7" stroke="#262626" stroke-width="1.00"/>
<line x1="944.6" y1="123.0" x2="948.3" y2="123.0" stroke="#262626" stroke-width="1.00"/>
<line x1="944.6" y1="102.3" x2="948.3" y2="102.3" stroke="#262626" stroke-width="1.00"/>
<line x1="944.6" y1="81.6" x2="948.3" y2="81.6" stroke="#262626" stroke-width="1.00"/>
<line x1="944.6" y1="60.8" x2="948.3" y2="60.8" stroke="#262626" stroke-width="1.00"/>
<line x1="944.6" y1="40.1" x2="948.3" y2="40.1" stroke="#262626" stroke-width="1.00"/>
<line x1="944.6" y1="81.6" x2="951.2" y2="81.6" stroke="#262626" stroke-width="1.00"/>
<line x1="944.6" y1="164.5" x2="951.2" y2="164.5" stroke="#262626" stroke-width="1.00"/>
<line x1="944.6" y1="247.4" x2="951.2" y2="247.4" stroke="#262626" stroke-width="1.00"/>
<line x1="944.6" y1="330.3" x2="951.2" y2="330.3" stroke="#262626" stroke-width="1.00"/>
<line x1="944.6" y1="413.2" x2="951.2" y2="413.2" stroke="#262626" stroke-width="1.00"/>
<line x1="944.6" y1="496.1" x2="951.2" y2="496.1" stroke="#262626" stroke-width="1.00"/>
<line x1="1563.3" y1="496.1" x2="1559.6" y2="496.1" stroke="#262626" stroke-width="1.00"/>
<line x1="1563.3" y1="479.8" x2="1559.6" y2="479.8" stroke="#262626" stroke-width="1.00"/>
<line x1="1563.3" y1="463.5" x2="1559.6" y2="463.5" stroke="#262626" stroke-width="1.00"/>
<line x1="1563.3" y1="447.2" x2="1559.6" y2="447.2" stroke="#262626" stroke-width="1.00"/>
<line x1="1563.3" y1="431.0" x2="1559.6" y2="431.0" stroke="#262626" stroke-width="1.00"/>
<line x1="1563.3" y1="414.7" x2="1559.6" y2="414.7" stroke="#262626" stroke-width="1.00"/>
<line x1="1563.3" y1="398.4" x2="1559.6" y2="398.4" stroke="#262626" stroke-width="1.00"/>
<line x1="1563.3" y1="382.1" x2="1559.6" y2="382.1" stroke="#262626" stroke-width="1.00"/>
<line x1="1563.3" y1="365.8" x2="1559.6" y2="365.8" stroke="#262626" stroke-width="1.00"/>
<line x1="1563.3" y1="349.5" x2="1559.6" y2="349.5" stroke="#262626" stroke-width="1.00"/>
<line x1="1563.3" y1="333.2" x2="1559.6" y2="333.2" stroke="#262626" stroke-width="1.00"/>
<line x1="1563.3" y1="317.0" x2="1559.6" y2="317.0" stroke="#262626" stroke-width="1.00"/>
<line x1="1563.3" y1="300.7" x2="1559.6" y2="300.7" stroke="#262626" stroke-width="1.00"/>
<line x1="1563.3" y1="284.4" x2="1559.6" y2="284.4" stroke="#262626" stroke-width="1.00"/>
<line x1="1563.3" y1="268.1" x2="1559.6" y2="268.1" stroke="#262626" stroke-width="1.00"/>
<line x1="1563.3" y1="251.8" x2="1559.6" y2="251.8" stroke="#262626" stroke-width="1.00"/>
<line x1="1563.3" y1="235.5" x2="1559.6" y2="235.5" stroke="#262626" stroke-width="1.00"/>
<line x1="1563.3" y1="219.2" x2="1559.6" y2="219.2" stroke="#262626" stroke-width="1.00"/>
<line x1="1563.3" y1="203.0" x2="1559.6" y2="203.0" stroke="#262626" stroke-width="1.00"/>
<line x1="1563.3" y1="186.7" x2="1559.6" y2="186.7" stroke="#262626" stroke-width="1.00"/>
<line x1="1563.3" y1="170.4" x2="1559.6" y2="170.4" stroke="#262626" stroke-width="1.00"/>
<line x1="1563.3" y1="154.1" x2="1559.6" y2="154.1" stroke="#262626" stroke-width="1.00"/>
<line x1="1563.3" y1="137.8" x2="1559.6" y2="137.8" stroke="#262626" stroke-width="1.00"/>
<line x1="1563.3" y1="121.5" x2="1559.6" y2="121.5" stroke="#262626" stroke-width="1.00"/>
<line x1="1563.3" y1="105.2" x2="1559.6" y2="105.2" stroke="#262626" stroke-width="1.00"/>
<line x1="1563.3" y1="89.0" x2="1559.6" y2="89.0" stroke="#262626" stroke-width="1.00"/>
<line x1="1563.3" y1="72.7" x2="1559.6" y2="72.7" stroke="#262626" stroke-width="1.00"/>
<line x1="1563.3" y1="56.4" x2="1559.6" y2="56.4" stroke="#262626" stroke-width="1.00"/>
<line x1="1563.3" y1="40.1" x2="1559.6" y2="40.1" stroke="#262626" stroke-width="1.00"/>
<line x1="1563.3" y1="496.1" x2="1556.7" y2="496.1" stroke="#262626" stroke-width="1.00"/>
<line x1="1563.3" y1="431.0" x2="1556.7" y2="431.0" stroke="#262626" stroke-width="1.00"/>
<line x1="1563.3" y1="365.8" x2="1556.7" y2="365.8" stroke="#262626" stroke-width="1.00"/>
<line x1="1563.3" y1="300.7" x2="1556.7" y2="300.7" stroke="#262626" stroke-width="1.00"/>
<line x1="1563.3" y1="235.5" x2="1556.7" y2="235.5" stroke="#262626" stroke-width="1.00"/>
<line x1="1563.3" y1="170.4" x2="1556.7" y2="170.4" stroke="#262626" stroke-width="1.00"/>
<line x1="1563.3" y1="105.2" x2="1556.7" y2="105.2" stroke="#262626" stroke-width="1.00"/>
<line x1="1563.3" y1="40.1" x2="1556.7" y2="40.1" stroke="#262626" stroke-width="1.00"/>
<rect x="944.6" y="40.1" width="618.7" height="456.0" fill="none" stroke="#262626" stroke-width="1.1"/>
<text x="969.3" y="529.3" font-size="24.5" text-anchor="middle" font-weight="normal" >0</text>
<text x="1068.3" y="529.3" font-size="24.5" text-anchor="middle" font-weight="normal" >0.2</text>
<text x="1167.3" y="529.3" font-size="24.5" text-anchor="middle" font-weight="normal" >0.4</text>
<text x="1266.3" y="529.3" font-size="24.5" text-anchor="middle" font-weight="normal" >0.6</text>
<text x="1365.3" y="529.3" font-size="24.5" text-anchor="middle" font-weight="normal" >0.8</text>
<text x="1464.3" y="529.3" font-size="24.5" text-anchor="middle" font-weight="normal" >1</text>
<text x="1563.3" y="529.3" font-size="24.5" text-anchor="middle" font-weight="normal" >1.2</text>
<text x="937.2" y="90.6" font-size="24.5" text-anchor="end" font-weight="normal" >0</text>
<text x="937.2" y="173.5" font-size="24.5" text-anchor="end" font-weight="normal" >-0.2</text>
<text x="937.2" y="256.4" font-size="24.5" text-anchor="end" font-weight="normal" >-0.4</text>
<text x="937.2" y="339.3" font-size="24.5" text-anchor="end" font-weight="normal" >-0.6</text>
<text x="937.2" y="422.2" font-size="24.5" text-anchor="end" font-weight="normal" >-0.8</text>
<text x="937.2" y="505.1" font-size="24.5" text-anchor="end" font-weight="normal" >-1</text>
<text x="1571.0" y="505.1" font-size="24.5" text-anchor="start" font-weight="normal" >2</text>
<text x="1571.0" y="440.0" font-size="24.5" text-anchor="start" font-weight="normal" >4</text>
<text x="1571.0" y="374.8" font-size="24.5" text-anchor="start" font-weight="normal" >6</text>
<text x="1571.0" y="309.7" font-size="24.5" text-anchor="start" font-weight="normal" >8</text>
<text x="1571.0" y="244.5" font-size="24.5" text-anchor="start" font-weight="normal" >10</text>
<text x="1571.0" y="179.4" font-size="24.5" text-anchor="start" font-weight="normal" >12</text>
<text x="1571.0" y="114.2" font-size="24.5" text-anchor="start" font-weight="normal" >14</text>
<text x="1571.0" y="49.1" font-size="24.5" text-anchor="start" font-weight="normal" >16</text>
<text x="1275.2" y="570.2" font-size="28.8" text-anchor="middle" font-weight="normal" >Absorbed dose (MGy)</text>
<text transform="translate(872.5 268.8) rotate(-90) scale(1 0.930)" font-size="27.9" text-anchor="middle">Variation of Δn<tspan font-size="20.8" dy="13.8">co</tspan><tspan dy="-13.8"> (x10 </tspan><tspan font-size="20.8" dy="-14.6">-4</tspan><tspan dy="14.6">) (RIU)</tspan></text>
<text transform="translate(1629.8 267.5) rotate(-90) scale(1 0.930)" font-size="27.9" text-anchor="middle">|ΔPower| (dB)</text>
<text x="880.0" y="24.4" font-size="31.5" text-anchor="start" font-weight="bold" >b</text>
</svg>
</body></html>
